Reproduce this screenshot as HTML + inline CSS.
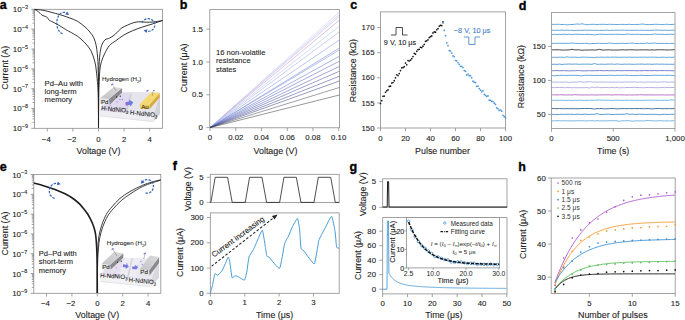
<!DOCTYPE html>
<html><head><meta charset="utf-8"><style>
html,body{margin:0;padding:0;background:#fff;overflow:hidden;}
svg{display:block;font-family:"Liberation Sans", sans-serif;}
</style></head><body>
<svg width="685" height="320" viewBox="0 0 685 320">
<rect width="685" height="320" fill="#fff"/>
<text x="-0.20" y="9.2" font-size="12.5" font-weight="bold" fill="#000" stroke="#000" stroke-width="0.35">a</text>
<rect x="34.50" y="9.30" width="128.00" height="119.00" fill="none" stroke="#8c8c8c" stroke-width="0.8"/>
<line x1="31.30" y1="9.30" x2="34.50" y2="9.30" stroke="#8c8c8c" stroke-width="0.8" />
<text x="27.90" y="12.30" font-size="8.0" text-anchor="end" fill="#222222" stroke="#222222" stroke-width="0.1">10<tspan font-size="5.4" dy="-3.2">−3</tspan></text>
<line x1="31.30" y1="29.13" x2="34.50" y2="29.13" stroke="#8c8c8c" stroke-width="0.8" />
<text x="27.90" y="32.13" font-size="8.0" text-anchor="end" fill="#222222" stroke="#222222" stroke-width="0.1">10<tspan font-size="5.4" dy="-3.2">−4</tspan></text>
<line x1="31.30" y1="48.97" x2="34.50" y2="48.97" stroke="#8c8c8c" stroke-width="0.8" />
<text x="27.90" y="51.97" font-size="8.0" text-anchor="end" fill="#222222" stroke="#222222" stroke-width="0.1">10<tspan font-size="5.4" dy="-3.2">−5</tspan></text>
<line x1="31.30" y1="68.80" x2="34.50" y2="68.80" stroke="#8c8c8c" stroke-width="0.8" />
<text x="27.90" y="71.80" font-size="8.0" text-anchor="end" fill="#222222" stroke="#222222" stroke-width="0.1">10<tspan font-size="5.4" dy="-3.2">−6</tspan></text>
<line x1="31.30" y1="88.63" x2="34.50" y2="88.63" stroke="#8c8c8c" stroke-width="0.8" />
<text x="27.90" y="91.63" font-size="8.0" text-anchor="end" fill="#222222" stroke="#222222" stroke-width="0.1">10<tspan font-size="5.4" dy="-3.2">−7</tspan></text>
<line x1="31.30" y1="108.47" x2="34.50" y2="108.47" stroke="#8c8c8c" stroke-width="0.8" />
<text x="27.90" y="111.47" font-size="8.0" text-anchor="end" fill="#222222" stroke="#222222" stroke-width="0.1">10<tspan font-size="5.4" dy="-3.2">−8</tspan></text>
<line x1="31.30" y1="128.30" x2="34.50" y2="128.30" stroke="#8c8c8c" stroke-width="0.8" />
<text x="27.90" y="131.30" font-size="8.0" text-anchor="end" fill="#222222" stroke="#222222" stroke-width="0.1">10<tspan font-size="5.4" dy="-3.2">−9</tspan></text>
<line x1="32.50" y1="23.16" x2="34.50" y2="23.16" stroke="#7a7a7a" stroke-width="0.7" />
<line x1="32.50" y1="19.67" x2="34.50" y2="19.67" stroke="#7a7a7a" stroke-width="0.7" />
<line x1="32.50" y1="17.19" x2="34.50" y2="17.19" stroke="#7a7a7a" stroke-width="0.7" />
<line x1="32.50" y1="15.27" x2="34.50" y2="15.27" stroke="#7a7a7a" stroke-width="0.7" />
<line x1="32.50" y1="13.70" x2="34.50" y2="13.70" stroke="#7a7a7a" stroke-width="0.7" />
<line x1="32.50" y1="12.37" x2="34.50" y2="12.37" stroke="#7a7a7a" stroke-width="0.7" />
<line x1="32.50" y1="11.22" x2="34.50" y2="11.22" stroke="#7a7a7a" stroke-width="0.7" />
<line x1="32.50" y1="10.21" x2="34.50" y2="10.21" stroke="#7a7a7a" stroke-width="0.7" />
<line x1="32.50" y1="43.00" x2="34.50" y2="43.00" stroke="#7a7a7a" stroke-width="0.7" />
<line x1="32.50" y1="39.50" x2="34.50" y2="39.50" stroke="#7a7a7a" stroke-width="0.7" />
<line x1="32.50" y1="37.03" x2="34.50" y2="37.03" stroke="#7a7a7a" stroke-width="0.7" />
<line x1="32.50" y1="35.10" x2="34.50" y2="35.10" stroke="#7a7a7a" stroke-width="0.7" />
<line x1="32.50" y1="33.53" x2="34.50" y2="33.53" stroke="#7a7a7a" stroke-width="0.7" />
<line x1="32.50" y1="32.21" x2="34.50" y2="32.21" stroke="#7a7a7a" stroke-width="0.7" />
<line x1="32.50" y1="31.06" x2="34.50" y2="31.06" stroke="#7a7a7a" stroke-width="0.7" />
<line x1="32.50" y1="30.04" x2="34.50" y2="30.04" stroke="#7a7a7a" stroke-width="0.7" />
<line x1="32.50" y1="62.83" x2="34.50" y2="62.83" stroke="#7a7a7a" stroke-width="0.7" />
<line x1="32.50" y1="59.34" x2="34.50" y2="59.34" stroke="#7a7a7a" stroke-width="0.7" />
<line x1="32.50" y1="56.86" x2="34.50" y2="56.86" stroke="#7a7a7a" stroke-width="0.7" />
<line x1="32.50" y1="54.94" x2="34.50" y2="54.94" stroke="#7a7a7a" stroke-width="0.7" />
<line x1="32.50" y1="53.37" x2="34.50" y2="53.37" stroke="#7a7a7a" stroke-width="0.7" />
<line x1="32.50" y1="52.04" x2="34.50" y2="52.04" stroke="#7a7a7a" stroke-width="0.7" />
<line x1="32.50" y1="50.89" x2="34.50" y2="50.89" stroke="#7a7a7a" stroke-width="0.7" />
<line x1="32.50" y1="49.87" x2="34.50" y2="49.87" stroke="#7a7a7a" stroke-width="0.7" />
<line x1="32.50" y1="82.66" x2="34.50" y2="82.66" stroke="#7a7a7a" stroke-width="0.7" />
<line x1="32.50" y1="79.17" x2="34.50" y2="79.17" stroke="#7a7a7a" stroke-width="0.7" />
<line x1="32.50" y1="76.69" x2="34.50" y2="76.69" stroke="#7a7a7a" stroke-width="0.7" />
<line x1="32.50" y1="74.77" x2="34.50" y2="74.77" stroke="#7a7a7a" stroke-width="0.7" />
<line x1="32.50" y1="73.20" x2="34.50" y2="73.20" stroke="#7a7a7a" stroke-width="0.7" />
<line x1="32.50" y1="71.87" x2="34.50" y2="71.87" stroke="#7a7a7a" stroke-width="0.7" />
<line x1="32.50" y1="70.72" x2="34.50" y2="70.72" stroke="#7a7a7a" stroke-width="0.7" />
<line x1="32.50" y1="69.71" x2="34.50" y2="69.71" stroke="#7a7a7a" stroke-width="0.7" />
<line x1="32.50" y1="102.50" x2="34.50" y2="102.50" stroke="#7a7a7a" stroke-width="0.7" />
<line x1="32.50" y1="99.00" x2="34.50" y2="99.00" stroke="#7a7a7a" stroke-width="0.7" />
<line x1="32.50" y1="96.53" x2="34.50" y2="96.53" stroke="#7a7a7a" stroke-width="0.7" />
<line x1="32.50" y1="94.60" x2="34.50" y2="94.60" stroke="#7a7a7a" stroke-width="0.7" />
<line x1="32.50" y1="93.03" x2="34.50" y2="93.03" stroke="#7a7a7a" stroke-width="0.7" />
<line x1="32.50" y1="91.71" x2="34.50" y2="91.71" stroke="#7a7a7a" stroke-width="0.7" />
<line x1="32.50" y1="90.56" x2="34.50" y2="90.56" stroke="#7a7a7a" stroke-width="0.7" />
<line x1="32.50" y1="89.54" x2="34.50" y2="89.54" stroke="#7a7a7a" stroke-width="0.7" />
<line x1="32.50" y1="122.33" x2="34.50" y2="122.33" stroke="#7a7a7a" stroke-width="0.7" />
<line x1="32.50" y1="118.84" x2="34.50" y2="118.84" stroke="#7a7a7a" stroke-width="0.7" />
<line x1="32.50" y1="116.36" x2="34.50" y2="116.36" stroke="#7a7a7a" stroke-width="0.7" />
<line x1="32.50" y1="114.44" x2="34.50" y2="114.44" stroke="#7a7a7a" stroke-width="0.7" />
<line x1="32.50" y1="112.87" x2="34.50" y2="112.87" stroke="#7a7a7a" stroke-width="0.7" />
<line x1="32.50" y1="111.54" x2="34.50" y2="111.54" stroke="#7a7a7a" stroke-width="0.7" />
<line x1="32.50" y1="110.39" x2="34.50" y2="110.39" stroke="#7a7a7a" stroke-width="0.7" />
<line x1="32.50" y1="109.37" x2="34.50" y2="109.37" stroke="#7a7a7a" stroke-width="0.7" />
<line x1="47.30" y1="128.30" x2="47.30" y2="131.50" stroke="#8c8c8c" stroke-width="0.8" />
<text x="46.30" y="141.60" font-size="7.8" text-anchor="middle" fill="#222222" stroke="#222222" stroke-width="0.1" font-weight="normal" >−4</text>
<line x1="72.90" y1="128.30" x2="72.90" y2="131.50" stroke="#8c8c8c" stroke-width="0.8" />
<text x="71.90" y="141.60" font-size="7.8" text-anchor="middle" fill="#222222" stroke="#222222" stroke-width="0.1" font-weight="normal" >−2</text>
<line x1="98.50" y1="128.30" x2="98.50" y2="131.50" stroke="#8c8c8c" stroke-width="0.8" />
<text x="98.50" y="141.60" font-size="7.8" text-anchor="middle" fill="#222222" stroke="#222222" stroke-width="0.1" font-weight="normal" >0</text>
<line x1="124.10" y1="128.30" x2="124.10" y2="131.50" stroke="#8c8c8c" stroke-width="0.8" />
<text x="124.10" y="141.60" font-size="7.8" text-anchor="middle" fill="#222222" stroke="#222222" stroke-width="0.1" font-weight="normal" >2</text>
<line x1="149.70" y1="128.30" x2="149.70" y2="131.50" stroke="#8c8c8c" stroke-width="0.8" />
<text x="149.70" y="141.60" font-size="7.8" text-anchor="middle" fill="#222222" stroke="#222222" stroke-width="0.1" font-weight="normal" >4</text>
<text x="98.50" y="153.80" font-size="8.9" text-anchor="middle" fill="#222222" stroke="#222222" stroke-width="0.1" font-weight="normal" >Voltage (V)</text>
<text x="0" y="0" font-size="8.9" text-anchor="middle" fill="#222222" stroke="#222222" stroke-width="0.1" transform="translate(8.30,67.80) rotate(-90)">Current (A)</text>
<path d="M34.60,9.40 C36.00,9.54 39.93,9.69 43.00,10.25 C46.07,10.81 49.67,11.86 53.00,12.75 C56.33,13.64 60.17,14.71 63.00,15.60 C65.83,16.49 67.58,17.16 70.00,18.10 C72.42,19.04 75.00,19.78 77.50,21.25 C80.00,22.72 82.93,25.11 85.00,26.90 C87.07,28.69 88.43,30.18 89.90,32.00 C91.37,33.82 92.75,35.53 93.80,37.80 C94.85,40.07 95.62,43.00 96.20,45.60 C96.78,48.20 96.97,50.79 97.25,53.40 C97.53,56.01 97.74,58.38 97.90,61.25 C98.06,64.12 98.12,67.47 98.20,70.60 C98.28,73.72 98.35,75.93 98.40,80.00 C98.45,84.07 98.48,87.00 98.50,95.00 C98.52,103.00 98.50,122.50 98.50,128.00" stroke="#1e1e1e" stroke-width="0.9" fill="none" />
<path d="M34.60,9.40 C35.27,9.82 37.52,11.07 38.60,11.90 C39.68,12.73 40.37,13.78 41.10,14.40 C41.83,15.02 42.27,15.25 43.00,15.60 C43.73,15.95 44.77,16.17 45.50,16.50 C46.23,16.83 46.85,17.05 47.40,17.60 C47.95,18.15 48.07,19.15 48.80,19.80 C49.52,20.45 50.22,20.68 51.75,21.50 C53.28,22.32 55.71,23.43 58.00,24.75 C60.29,26.07 63.50,28.21 65.50,29.40 C67.50,30.59 68.00,30.76 70.00,31.90 C72.00,33.04 75.50,34.90 77.50,36.25 C79.50,37.60 80.58,38.71 82.00,40.00 C83.42,41.29 84.55,42.28 86.00,44.00 C87.45,45.72 89.40,47.95 90.70,50.30 C92.00,52.65 92.97,55.50 93.80,58.10 C94.63,60.70 95.23,63.29 95.70,65.90 C96.17,68.51 96.34,71.40 96.60,73.75 C96.86,76.10 96.98,76.46 97.25,80.00 C97.52,83.54 97.99,87.00 98.20,95.00 C98.41,103.00 98.45,122.50 98.50,128.00" stroke="#1e1e1e" stroke-width="0.9" fill="none" />
<path d="M98.50,128.00 C98.50,122.50 98.50,103.00 98.50,95.00 C98.50,87.00 98.45,84.07 98.50,80.00 C98.55,75.93 98.67,73.72 98.80,70.60 C98.93,67.47 99.10,64.12 99.30,61.25 C99.50,58.38 99.62,56.01 100.00,53.40 C100.38,50.79 100.93,47.67 101.60,45.60 C102.27,43.53 103.27,42.07 104.00,41.00 C104.73,39.93 105.25,39.62 106.00,39.20 C106.75,38.78 107.67,38.82 108.50,38.50 C109.33,38.18 109.83,38.05 111.00,37.30 C112.17,36.55 113.79,35.51 115.50,34.00 C117.21,32.49 119.25,29.73 121.25,28.25 C123.25,26.77 125.42,26.04 127.50,25.10 C129.58,24.16 131.67,23.16 133.75,22.60 C135.83,22.04 137.92,21.81 140.00,21.75 C142.08,21.69 144.17,22.21 146.25,22.25 C148.33,22.29 150.62,22.14 152.50,22.00 C154.38,21.86 155.85,21.65 157.50,21.40 C159.15,21.15 161.58,20.65 162.40,20.50" stroke="#1e1e1e" stroke-width="0.9" fill="none" />
<path d="M98.50,128.00 C98.55,122.50 98.67,103.00 98.80,95.00 C98.93,87.00 99.10,84.33 99.30,80.00 C99.50,75.67 99.62,72.12 100.00,69.00 C100.38,65.88 100.81,63.85 101.60,61.25 C102.39,58.65 103.45,56.01 104.75,53.40 C106.05,50.79 107.58,47.70 109.40,45.60 C111.23,43.50 113.31,42.55 115.70,40.80 C118.09,39.05 120.95,36.77 123.75,35.10 C126.55,33.43 129.38,32.10 132.50,30.75 C135.62,29.40 139.17,28.14 142.50,27.00 C145.83,25.86 149.18,24.98 152.50,23.90 C155.82,22.82 160.75,21.07 162.40,20.50" stroke="#1e1e1e" stroke-width="0.9" fill="none" />
<path d="M62.58,33.74 L61.80,33.45 L61.04,33.03 L60.32,32.47 L59.65,31.79 L59.03,31.00 L58.47,30.10 L57.98,29.11 L57.57,28.04 L57.25,26.90 L57.01,25.71 L56.86,24.49 L56.80,23.25 L56.84,22.01 L56.96,20.78 L57.18,19.58 L57.49,18.43 L57.88,17.34 L58.34,16.33 L58.88,15.41 L59.49,14.59 L60.15,13.88 L60.86,13.30 L61.61,12.84 L62.39,12.52 L63.19,12.34 L64.00,12.30 L64.80,12.41 L65.59,12.66 L66.35,13.04 L67.09,13.56" stroke="#3566b8" stroke-width="1.25" fill="none" stroke-dasharray="2.4 1.3" stroke-linecap="butt"/>
<path d="M69.04,14.95 L65.17,14.53 L67.37,11.44 Z" fill="#3566b8"/>
<path d="M142.00,22.85 L142.43,21.95 L143.00,21.12 L143.70,20.39 L144.51,19.78 L145.41,19.29 L146.38,18.94 L147.40,18.75 L148.43,18.70 L149.46,18.82 L150.46,19.08 L151.40,19.49 L152.26,20.04 L153.03,20.70 L153.67,21.48 L154.18,22.34 L154.54,23.26 L154.75,24.23 L154.80,25.22 L154.68,26.20 L154.40,27.15 L153.97,28.05 L153.40,28.88 L152.70,29.61 L151.89,30.22 L150.99,30.71 L150.02,31.06 L149.00,31.25 L147.97,31.30 L146.94,31.18 L145.94,30.92" stroke="#3566b8" stroke-width="1.25" fill="none" stroke-dasharray="2.4 1.3" stroke-linecap="butt"/>
<path d="M143.62,30.31 L147.40,29.34 L146.42,33.01 Z" fill="#3566b8"/>
<text x="179.80" y="9.3" font-size="12.5" font-weight="bold" fill="#000" stroke="#000" stroke-width="0.35">b</text>
<rect x="209.80" y="9.60" width="129.70" height="118.20" fill="none" stroke="#8c8c8c" stroke-width="0.8"/>
<line x1="206.40" y1="127.60" x2="209.80" y2="127.60" stroke="#8c8c8c" stroke-width="0.8" />
<text x="202.90" y="130.20" font-size="7.8" text-anchor="end" fill="#222222" stroke="#222222" stroke-width="0.1" font-weight="normal" >0</text>
<line x1="206.40" y1="94.80" x2="209.80" y2="94.80" stroke="#8c8c8c" stroke-width="0.8" />
<text x="202.90" y="97.40" font-size="7.8" text-anchor="end" fill="#222222" stroke="#222222" stroke-width="0.1" font-weight="normal" >0.5</text>
<line x1="206.40" y1="62.00" x2="209.80" y2="62.00" stroke="#8c8c8c" stroke-width="0.8" />
<text x="202.90" y="64.60" font-size="7.8" text-anchor="end" fill="#222222" stroke="#222222" stroke-width="0.1" font-weight="normal" >1.0</text>
<line x1="206.40" y1="29.20" x2="209.80" y2="29.20" stroke="#8c8c8c" stroke-width="0.8" />
<text x="202.90" y="31.80" font-size="7.8" text-anchor="end" fill="#222222" stroke="#222222" stroke-width="0.1" font-weight="normal" >1.5</text>
<line x1="210.00" y1="127.80" x2="210.00" y2="131.00" stroke="#8c8c8c" stroke-width="0.8" />
<text x="210.00" y="140.00" font-size="7.8" text-anchor="middle" fill="#222222" stroke="#222222" stroke-width="0.1" font-weight="normal" >0</text>
<line x1="235.74" y1="127.80" x2="235.74" y2="131.00" stroke="#8c8c8c" stroke-width="0.8" />
<text x="235.74" y="140.00" font-size="7.8" text-anchor="middle" fill="#222222" stroke="#222222" stroke-width="0.1" font-weight="normal" >0.02</text>
<line x1="261.48" y1="127.80" x2="261.48" y2="131.00" stroke="#8c8c8c" stroke-width="0.8" />
<text x="261.48" y="140.00" font-size="7.8" text-anchor="middle" fill="#222222" stroke="#222222" stroke-width="0.1" font-weight="normal" >0.04</text>
<line x1="287.22" y1="127.80" x2="287.22" y2="131.00" stroke="#8c8c8c" stroke-width="0.8" />
<text x="287.22" y="140.00" font-size="7.8" text-anchor="middle" fill="#222222" stroke="#222222" stroke-width="0.1" font-weight="normal" >0.06</text>
<line x1="312.96" y1="127.80" x2="312.96" y2="131.00" stroke="#8c8c8c" stroke-width="0.8" />
<text x="312.96" y="140.00" font-size="7.8" text-anchor="middle" fill="#222222" stroke="#222222" stroke-width="0.1" font-weight="normal" >0.08</text>
<line x1="338.70" y1="127.80" x2="338.70" y2="131.00" stroke="#8c8c8c" stroke-width="0.8" />
<text x="338.70" y="140.00" font-size="7.8" text-anchor="middle" fill="#222222" stroke="#222222" stroke-width="0.1" font-weight="normal" >0.10</text>
<text x="275.50" y="154.00" font-size="8.9" text-anchor="middle" fill="#222222" stroke="#222222" stroke-width="0.1" font-weight="normal" >Voltage (V)</text>
<text x="0" y="0" font-size="8.9" text-anchor="middle" fill="#222222" stroke="#222222" stroke-width="0.1" transform="translate(186.60,68.00) rotate(-90)">Current (μA)</text>
<line x1="210.00" y1="127.60" x2="339.30" y2="11.90" stroke="#c4c4ee" stroke-width="0.52" />
<line x1="210.00" y1="127.60" x2="339.30" y2="14.40" stroke="#b8bcec" stroke-width="0.52" />
<line x1="210.00" y1="127.60" x2="339.30" y2="16.25" stroke="#b0b0e6" stroke-width="0.52" />
<line x1="210.00" y1="127.60" x2="339.30" y2="20.25" stroke="#c888cc" stroke-width="0.52" />
<line x1="210.00" y1="127.60" x2="339.30" y2="26.25" stroke="#a0c4ee" stroke-width="0.52" />
<line x1="210.00" y1="127.60" x2="339.30" y2="31.90" stroke="#9ca4e4" stroke-width="0.52" />
<line x1="210.00" y1="127.60" x2="339.30" y2="40.00" stroke="#8090dc" stroke-width="0.52" />
<line x1="210.00" y1="127.60" x2="339.30" y2="48.10" stroke="#6880d4" stroke-width="0.52" />
<line x1="210.00" y1="127.60" x2="339.30" y2="50.00" stroke="#7088d4" stroke-width="0.52" />
<line x1="210.00" y1="127.60" x2="339.30" y2="56.25" stroke="#5c6cc4" stroke-width="0.52" />
<line x1="210.00" y1="127.60" x2="339.30" y2="61.25" stroke="#5060b8" stroke-width="0.52" />
<line x1="210.00" y1="127.60" x2="339.30" y2="66.50" stroke="#4a58ac" stroke-width="0.52" />
<line x1="210.00" y1="127.60" x2="339.30" y2="71.25" stroke="#404c9c" stroke-width="0.52" />
<line x1="210.00" y1="127.60" x2="339.30" y2="76.25" stroke="#3a4290" stroke-width="0.52" />
<line x1="210.00" y1="127.60" x2="339.30" y2="81.00" stroke="#383c7c" stroke-width="0.52" />
<line x1="210.00" y1="127.60" x2="339.30" y2="87.50" stroke="#484860" stroke-width="0.52" />
<line x1="210.00" y1="127.60" x2="339.30" y2="95.00" stroke="#3a3a3a" stroke-width="0.52" />
<text x="216.00" y="54.80" font-size="7.6" text-anchor="start" fill="#222" stroke="#222" stroke-width="0.1" font-weight="normal" >16 non-volatile</text>
<text x="216.00" y="63.20" font-size="7.6" text-anchor="start" fill="#222" stroke="#222" stroke-width="0.1" font-weight="normal" >resistance</text>
<text x="216.00" y="71.60" font-size="7.6" text-anchor="start" fill="#222" stroke="#222" stroke-width="0.1" font-weight="normal" >states</text>
<text x="350.30" y="9.3" font-size="12.5" font-weight="bold" fill="#000" stroke="#000" stroke-width="0.35">c</text>
<rect x="380.50" y="11.90" width="125.00" height="116.10" fill="none" stroke="#8c8c8c" stroke-width="0.8"/>
<line x1="377.10" y1="128.00" x2="380.50" y2="128.00" stroke="#8c8c8c" stroke-width="0.8" />
<text x="374.50" y="130.60" font-size="7.8" text-anchor="end" fill="#222222" stroke="#222222" stroke-width="0.1" font-weight="normal" >150</text>
<line x1="377.10" y1="102.90" x2="380.50" y2="102.90" stroke="#8c8c8c" stroke-width="0.8" />
<text x="374.50" y="105.50" font-size="7.8" text-anchor="end" fill="#222222" stroke="#222222" stroke-width="0.1" font-weight="normal" >155</text>
<line x1="377.10" y1="77.80" x2="380.50" y2="77.80" stroke="#8c8c8c" stroke-width="0.8" />
<text x="374.50" y="80.40" font-size="7.8" text-anchor="end" fill="#222222" stroke="#222222" stroke-width="0.1" font-weight="normal" >160</text>
<line x1="377.10" y1="52.70" x2="380.50" y2="52.70" stroke="#8c8c8c" stroke-width="0.8" />
<text x="374.50" y="55.30" font-size="7.8" text-anchor="end" fill="#222222" stroke="#222222" stroke-width="0.1" font-weight="normal" >165</text>
<line x1="377.10" y1="27.60" x2="380.50" y2="27.60" stroke="#8c8c8c" stroke-width="0.8" />
<text x="374.50" y="30.20" font-size="7.8" text-anchor="end" fill="#222222" stroke="#222222" stroke-width="0.1" font-weight="normal" >170</text>
<line x1="380.50" y1="128.00" x2="380.50" y2="131.20" stroke="#8c8c8c" stroke-width="0.8" />
<text x="380.50" y="140.80" font-size="7.8" text-anchor="middle" fill="#222222" stroke="#222222" stroke-width="0.1" font-weight="normal" >0</text>
<line x1="405.50" y1="128.00" x2="405.50" y2="131.20" stroke="#8c8c8c" stroke-width="0.8" />
<text x="405.50" y="140.80" font-size="7.8" text-anchor="middle" fill="#222222" stroke="#222222" stroke-width="0.1" font-weight="normal" >20</text>
<line x1="430.50" y1="128.00" x2="430.50" y2="131.20" stroke="#8c8c8c" stroke-width="0.8" />
<text x="430.50" y="140.80" font-size="7.8" text-anchor="middle" fill="#222222" stroke="#222222" stroke-width="0.1" font-weight="normal" >40</text>
<line x1="455.50" y1="128.00" x2="455.50" y2="131.20" stroke="#8c8c8c" stroke-width="0.8" />
<text x="455.50" y="140.80" font-size="7.8" text-anchor="middle" fill="#222222" stroke="#222222" stroke-width="0.1" font-weight="normal" >60</text>
<line x1="480.50" y1="128.00" x2="480.50" y2="131.20" stroke="#8c8c8c" stroke-width="0.8" />
<text x="480.50" y="140.80" font-size="7.8" text-anchor="middle" fill="#222222" stroke="#222222" stroke-width="0.1" font-weight="normal" >80</text>
<line x1="505.50" y1="128.00" x2="505.50" y2="131.20" stroke="#8c8c8c" stroke-width="0.8" />
<text x="505.50" y="140.80" font-size="7.8" text-anchor="middle" fill="#222222" stroke="#222222" stroke-width="0.1" font-weight="normal" >100</text>
<text x="442.50" y="154.00" font-size="8.9" text-anchor="middle" fill="#222222" stroke="#222222" stroke-width="0.1" font-weight="normal" >Pulse number</text>
<text x="0" y="0" font-size="8.9" text-anchor="middle" fill="#222222" stroke="#222222" stroke-width="0.1" transform="translate(356.40,70.60) rotate(-90)">Resistance (kΩ)</text>
<circle cx="380.50" cy="103.52" r="0.85" fill="#111"/>
<circle cx="381.75" cy="100.66" r="0.85" fill="#111"/>
<circle cx="383.00" cy="96.33" r="0.85" fill="#111"/>
<circle cx="384.25" cy="96.05" r="0.85" fill="#111"/>
<circle cx="385.50" cy="92.26" r="0.85" fill="#111"/>
<circle cx="386.75" cy="90.80" r="0.85" fill="#111"/>
<circle cx="388.00" cy="89.91" r="0.85" fill="#111"/>
<circle cx="389.25" cy="86.42" r="0.85" fill="#111"/>
<circle cx="390.50" cy="86.22" r="0.85" fill="#111"/>
<circle cx="391.75" cy="83.02" r="0.85" fill="#111"/>
<circle cx="393.00" cy="82.52" r="0.85" fill="#111"/>
<circle cx="394.25" cy="80.72" r="0.85" fill="#111"/>
<circle cx="395.50" cy="77.84" r="0.85" fill="#111"/>
<circle cx="396.75" cy="74.75" r="0.85" fill="#111"/>
<circle cx="398.00" cy="75.57" r="0.85" fill="#111"/>
<circle cx="399.25" cy="73.60" r="0.85" fill="#111"/>
<circle cx="400.50" cy="70.57" r="0.85" fill="#111"/>
<circle cx="401.75" cy="67.87" r="0.85" fill="#111"/>
<circle cx="403.00" cy="67.60" r="0.85" fill="#111"/>
<circle cx="404.25" cy="66.69" r="0.85" fill="#111"/>
<circle cx="405.50" cy="63.12" r="0.85" fill="#111"/>
<circle cx="406.75" cy="64.87" r="0.85" fill="#111"/>
<circle cx="408.00" cy="60.51" r="0.85" fill="#111"/>
<circle cx="409.25" cy="61.02" r="0.85" fill="#111"/>
<circle cx="410.50" cy="60.06" r="0.85" fill="#111"/>
<circle cx="411.75" cy="58.69" r="0.85" fill="#111"/>
<circle cx="413.00" cy="56.57" r="0.85" fill="#111"/>
<circle cx="414.25" cy="53.34" r="0.85" fill="#111"/>
<circle cx="415.50" cy="54.14" r="0.85" fill="#111"/>
<circle cx="416.75" cy="51.31" r="0.85" fill="#111"/>
<circle cx="418.00" cy="49.70" r="0.85" fill="#111"/>
<circle cx="419.25" cy="49.24" r="0.85" fill="#111"/>
<circle cx="420.50" cy="47.23" r="0.85" fill="#111"/>
<circle cx="421.75" cy="47.55" r="0.85" fill="#111"/>
<circle cx="423.00" cy="46.19" r="0.85" fill="#111"/>
<circle cx="424.25" cy="44.31" r="0.85" fill="#111"/>
<circle cx="425.50" cy="41.28" r="0.85" fill="#111"/>
<circle cx="426.75" cy="40.82" r="0.85" fill="#111"/>
<circle cx="428.00" cy="39.87" r="0.85" fill="#111"/>
<circle cx="429.25" cy="37.58" r="0.85" fill="#111"/>
<circle cx="430.50" cy="36.72" r="0.85" fill="#111"/>
<circle cx="431.75" cy="35.93" r="0.85" fill="#111"/>
<circle cx="433.00" cy="32.88" r="0.85" fill="#111"/>
<circle cx="434.25" cy="31.90" r="0.85" fill="#111"/>
<circle cx="435.50" cy="32.19" r="0.85" fill="#111"/>
<circle cx="436.75" cy="29.73" r="0.85" fill="#111"/>
<circle cx="438.00" cy="28.61" r="0.85" fill="#111"/>
<circle cx="439.25" cy="26.10" r="0.85" fill="#111"/>
<circle cx="440.50" cy="25.33" r="0.85" fill="#111"/>
<circle cx="441.75" cy="25.60" r="0.85" fill="#111"/>
<circle cx="443.00" cy="21.90" r="0.85" fill="#111"/>
<circle cx="443.00" cy="22.92" r="0.85" fill="#4a96d8"/>
<circle cx="444.25" cy="30.38" r="0.85" fill="#4a96d8"/>
<circle cx="445.50" cy="35.70" r="0.85" fill="#4a96d8"/>
<circle cx="446.75" cy="42.88" r="0.85" fill="#4a96d8"/>
<circle cx="448.00" cy="45.72" r="0.85" fill="#4a96d8"/>
<circle cx="449.25" cy="50.58" r="0.85" fill="#4a96d8"/>
<circle cx="450.50" cy="51.12" r="0.85" fill="#4a96d8"/>
<circle cx="451.75" cy="53.15" r="0.85" fill="#4a96d8"/>
<circle cx="453.00" cy="55.92" r="0.85" fill="#4a96d8"/>
<circle cx="454.25" cy="56.76" r="0.85" fill="#4a96d8"/>
<circle cx="455.50" cy="60.49" r="0.85" fill="#4a96d8"/>
<circle cx="456.75" cy="60.81" r="0.85" fill="#4a96d8"/>
<circle cx="458.00" cy="62.75" r="0.85" fill="#4a96d8"/>
<circle cx="459.25" cy="64.34" r="0.85" fill="#4a96d8"/>
<circle cx="460.50" cy="66.27" r="0.85" fill="#4a96d8"/>
<circle cx="461.75" cy="66.40" r="0.85" fill="#4a96d8"/>
<circle cx="463.00" cy="67.48" r="0.85" fill="#4a96d8"/>
<circle cx="464.25" cy="70.58" r="0.85" fill="#4a96d8"/>
<circle cx="465.50" cy="71.34" r="0.85" fill="#4a96d8"/>
<circle cx="466.75" cy="74.88" r="0.85" fill="#4a96d8"/>
<circle cx="468.00" cy="74.05" r="0.85" fill="#4a96d8"/>
<circle cx="469.25" cy="75.65" r="0.85" fill="#4a96d8"/>
<circle cx="470.50" cy="75.85" r="0.85" fill="#4a96d8"/>
<circle cx="471.75" cy="77.86" r="0.85" fill="#4a96d8"/>
<circle cx="473.00" cy="81.16" r="0.85" fill="#4a96d8"/>
<circle cx="474.25" cy="82.21" r="0.85" fill="#4a96d8"/>
<circle cx="475.50" cy="82.62" r="0.85" fill="#4a96d8"/>
<circle cx="476.75" cy="86.30" r="0.85" fill="#4a96d8"/>
<circle cx="478.00" cy="86.17" r="0.85" fill="#4a96d8"/>
<circle cx="479.25" cy="88.60" r="0.85" fill="#4a96d8"/>
<circle cx="480.50" cy="90.19" r="0.85" fill="#4a96d8"/>
<circle cx="481.75" cy="91.80" r="0.85" fill="#4a96d8"/>
<circle cx="483.00" cy="90.71" r="0.85" fill="#4a96d8"/>
<circle cx="484.25" cy="94.36" r="0.85" fill="#4a96d8"/>
<circle cx="485.50" cy="95.35" r="0.85" fill="#4a96d8"/>
<circle cx="486.75" cy="96.25" r="0.85" fill="#4a96d8"/>
<circle cx="488.00" cy="95.97" r="0.85" fill="#4a96d8"/>
<circle cx="489.25" cy="100.16" r="0.85" fill="#4a96d8"/>
<circle cx="490.50" cy="100.27" r="0.85" fill="#4a96d8"/>
<circle cx="491.75" cy="101.32" r="0.85" fill="#4a96d8"/>
<circle cx="493.00" cy="101.55" r="0.85" fill="#4a96d8"/>
<circle cx="494.25" cy="103.18" r="0.85" fill="#4a96d8"/>
<circle cx="495.50" cy="104.43" r="0.85" fill="#4a96d8"/>
<circle cx="496.75" cy="107.90" r="0.85" fill="#4a96d8"/>
<circle cx="498.00" cy="108.82" r="0.85" fill="#4a96d8"/>
<circle cx="499.25" cy="110.42" r="0.85" fill="#4a96d8"/>
<circle cx="500.50" cy="109.98" r="0.85" fill="#4a96d8"/>
<circle cx="501.75" cy="111.13" r="0.85" fill="#4a96d8"/>
<circle cx="503.00" cy="115.37" r="0.85" fill="#4a96d8"/>
<circle cx="504.25" cy="116.69" r="0.85" fill="#4a96d8"/>
<circle cx="505.50" cy="117.90" r="0.85" fill="#4a96d8"/>
<path d="M391,35 L396,35 L396,27.5 L402.5,27.5 L402.5,35 L407.5,35" stroke="#222" stroke-width="0.8" fill="none" />
<text x="383.80" y="45.30" font-size="7.3" text-anchor="start" fill="#222" stroke="#222" stroke-width="0.1" font-weight="normal" >9 V, 10 μs</text>
<path d="M463.8,37 L468.8,37 L468.8,44.5 L475,44.5 L475,37 L480,37" stroke="#3d7cc9" stroke-width="0.8" fill="none" />
<text x="453.80" y="32.60" font-size="7.3" text-anchor="start" fill="#3d7cc9" stroke="#3d7cc9" stroke-width="0.1" font-weight="normal" >−8 V, 10 μs</text>
<text x="518.80" y="9.5" font-size="12.5" font-weight="bold" fill="#000" stroke="#000" stroke-width="0.35">d</text>
<rect x="551.50" y="12.60" width="123.50" height="115.90" fill="none" stroke="#8c8c8c" stroke-width="0.8"/>
<line x1="548.10" y1="114.40" x2="551.50" y2="114.40" stroke="#8c8c8c" stroke-width="0.8" />
<text x="545.50" y="117.00" font-size="7.8" text-anchor="end" fill="#222222" stroke="#222222" stroke-width="0.1" font-weight="normal" >50</text>
<line x1="548.10" y1="80.40" x2="551.50" y2="80.40" stroke="#8c8c8c" stroke-width="0.8" />
<text x="545.50" y="83.00" font-size="7.8" text-anchor="end" fill="#222222" stroke="#222222" stroke-width="0.1" font-weight="normal" >100</text>
<line x1="548.10" y1="46.40" x2="551.50" y2="46.40" stroke="#8c8c8c" stroke-width="0.8" />
<text x="545.50" y="49.00" font-size="7.8" text-anchor="end" fill="#222222" stroke="#222222" stroke-width="0.1" font-weight="normal" >150</text>
<line x1="551.50" y1="128.50" x2="551.50" y2="131.70" stroke="#8c8c8c" stroke-width="0.8" />
<text x="551.50" y="141.30" font-size="7.8" text-anchor="middle" fill="#222222" stroke="#222222" stroke-width="0.1" font-weight="normal" >0</text>
<line x1="613.20" y1="128.50" x2="613.20" y2="131.70" stroke="#8c8c8c" stroke-width="0.8" />
<text x="613.20" y="141.30" font-size="7.8" text-anchor="middle" fill="#222222" stroke="#222222" stroke-width="0.1" font-weight="normal" >500</text>
<line x1="675.00" y1="128.50" x2="675.00" y2="131.70" stroke="#8c8c8c" stroke-width="0.8" />
<text x="675.00" y="141.30" font-size="7.8" text-anchor="middle" fill="#222222" stroke="#222222" stroke-width="0.1" font-weight="normal" >1,000</text>
<text x="613.20" y="153.80" font-size="8.9" text-anchor="middle" fill="#222222" stroke="#222222" stroke-width="0.1" font-weight="normal" >Time (s)</text>
<text x="0" y="0" font-size="8.9" text-anchor="middle" fill="#222222" stroke="#222222" stroke-width="0.1" transform="translate(524.30,76.60) rotate(-90)">Resistance (kΩ)</text>
<path d="M552.00,24.32 L554.50,24.43 L557.00,24.25 L559.50,24.36 L562.00,24.54 L564.50,24.40 L567.00,24.93 L569.50,24.48 L572.00,24.49 L574.50,24.37 L577.00,23.92 L579.50,24.31 L582.00,23.75 L584.50,24.30 L587.00,24.81 L589.50,24.43 L592.00,24.33 L594.50,24.36 L597.00,24.50 L599.50,24.39 L602.00,24.28 L604.50,24.35 L607.00,24.50 L609.50,24.26 L612.00,24.41 L614.50,24.45 L617.00,24.54 L619.50,24.46 L622.00,24.36 L624.50,24.48 L627.00,24.48 L629.50,24.32 L632.00,24.55 L634.50,24.49 L637.00,24.47 L639.50,24.41 L642.00,23.99 L644.50,24.33 L647.00,24.54 L649.50,24.53 L652.00,24.54 L654.50,24.32 L657.00,24.31 L659.50,24.44 L662.00,24.50 L664.50,24.45 L667.00,24.28 L669.50,24.52 L672.00,24.48 L674.50,24.30" stroke="#4092d0" stroke-width="0.8" fill="none" />
<path d="M552.00,30.20 L554.50,30.39 L557.00,30.22 L559.50,30.32 L562.00,30.14 L564.50,30.37 L567.00,30.14 L569.50,30.39 L572.00,30.21 L574.50,30.70 L577.00,30.29 L579.50,30.38 L582.00,30.36 L584.50,30.16 L587.00,30.19 L589.50,30.28 L592.00,30.23 L594.50,30.37 L597.00,30.24 L599.50,30.37 L602.00,30.38 L604.50,30.26 L607.00,30.11 L609.50,30.51 L612.00,30.15 L614.50,30.32 L617.00,30.20 L619.50,30.27 L622.00,30.13 L624.50,30.17 L627.00,30.33 L629.50,30.27 L632.00,30.37 L634.50,30.28 L637.00,30.25 L639.50,30.24 L642.00,30.24 L644.50,30.31 L647.00,30.38 L649.50,30.27 L652.00,30.35 L654.50,30.14 L657.00,30.12 L659.50,30.12 L662.00,30.34 L664.50,30.15 L667.00,30.30 L669.50,30.36 L672.00,30.17 L674.50,30.22" stroke="#4092d0" stroke-width="0.8" fill="none" />
<path d="M552.00,34.55 L554.50,34.30 L557.00,34.40 L559.50,34.31 L562.00,34.53 L564.50,34.18 L567.00,34.44 L569.50,34.27 L572.00,34.49 L574.50,34.28 L577.00,34.26 L579.50,34.33 L582.00,34.38 L584.50,34.50 L587.00,34.29 L589.50,34.42 L592.00,34.50 L594.50,34.90 L597.00,34.44 L599.50,34.28 L602.00,34.27 L604.50,34.39 L607.00,34.42 L609.50,34.33 L612.00,34.41 L614.50,34.28 L617.00,34.27 L619.50,34.34 L622.00,34.48 L624.50,34.40 L627.00,34.05 L629.50,34.25 L632.00,34.42 L634.50,34.39 L637.00,34.28 L639.50,34.38 L642.00,34.50 L644.50,34.40 L647.00,34.54 L649.50,34.50 L652.00,34.44 L654.50,33.91 L657.00,34.27 L659.50,34.33 L662.00,34.28 L664.50,34.51 L667.00,34.33 L669.50,34.34 L672.00,34.30 L674.50,34.33" stroke="#4092d0" stroke-width="0.8" fill="none" />
<path d="M552.00,43.54 L554.50,43.32 L557.00,43.34 L559.50,43.25 L562.00,43.39 L564.50,43.31 L567.00,43.25 L569.50,43.28 L572.00,43.03 L574.50,43.32 L577.00,43.41 L579.50,43.45 L582.00,43.51 L584.50,43.35 L587.00,43.29 L589.50,43.85 L592.00,43.52 L594.50,43.47 L597.00,43.29 L599.50,43.40 L602.00,43.49 L604.50,43.43 L607.00,43.45 L609.50,42.88 L612.00,43.36 L614.50,43.50 L617.00,43.44 L619.50,43.45 L622.00,43.25 L624.50,43.47 L627.00,43.41 L629.50,43.27 L632.00,43.04 L634.50,43.47 L637.00,43.47 L639.50,43.40 L642.00,43.39 L644.50,43.48 L647.00,43.02 L649.50,43.33 L652.00,43.34 L654.50,42.98 L657.00,43.45 L659.50,43.45 L662.00,43.40 L664.50,43.39 L667.00,43.52 L669.50,43.54 L672.00,43.26 L674.50,43.50" stroke="#4092d0" stroke-width="0.8" fill="none" />
<path d="M552.00,49.88 L554.50,49.81 L557.00,49.81 L559.50,49.79 L562.00,50.04 L564.50,50.00 L567.00,50.02 L569.50,49.82 L572.00,49.30 L574.50,49.90 L577.00,49.84 L579.50,49.85 L582.00,50.30 L584.50,50.00 L587.00,50.03 L589.50,50.02 L592.00,49.86 L594.50,50.05 L597.00,49.86 L599.50,49.35 L602.00,50.00 L604.50,50.03 L607.00,49.83 L609.50,49.81 L612.00,50.04 L614.50,49.99 L617.00,50.02 L619.50,49.91 L622.00,49.76 L624.50,49.89 L627.00,49.94 L629.50,49.76 L632.00,49.79 L634.50,49.85 L637.00,49.97 L639.50,49.83 L642.00,49.84 L644.50,49.87 L647.00,49.80 L649.50,50.02 L652.00,49.82 L654.50,50.05 L657.00,49.79 L659.50,49.78 L662.00,49.78 L664.50,49.83 L667.00,50.02 L669.50,49.87 L672.00,49.91 L674.50,49.58" stroke="#1a1a1a" stroke-width="0.8" fill="none" />
<path d="M552.00,57.39 L554.50,57.25 L557.00,57.36 L559.50,57.18 L562.00,57.22 L564.50,57.39 L567.00,56.80 L569.50,57.31 L572.00,57.24 L574.50,57.10 L577.00,57.38 L579.50,57.36 L582.00,57.17 L584.50,57.15 L587.00,57.30 L589.50,57.32 L592.00,57.33 L594.50,57.60 L597.00,57.17 L599.50,57.29 L602.00,57.14 L604.50,57.29 L607.00,57.16 L609.50,57.27 L612.00,57.17 L614.50,57.10 L617.00,57.24 L619.50,57.29 L622.00,57.24 L624.50,57.17 L627.00,57.31 L629.50,57.11 L632.00,57.30 L634.50,57.18 L637.00,57.38 L639.50,57.11 L642.00,57.23 L644.50,57.16 L647.00,57.32 L649.50,57.16 L652.00,57.19 L654.50,57.17 L657.00,57.33 L659.50,57.39 L662.00,57.16 L664.50,57.23 L667.00,57.38 L669.50,57.22 L672.00,57.39 L674.50,56.99" stroke="#4092d0" stroke-width="0.8" fill="none" />
<path d="M552.00,64.32 L554.50,64.27 L557.00,64.33 L559.50,64.11 L562.00,64.47 L564.50,64.16 L567.00,64.15 L569.50,64.05 L572.00,64.16 L574.50,64.09 L577.00,64.11 L579.50,64.30 L582.00,64.15 L584.50,64.16 L587.00,64.11 L589.50,64.21 L592.00,64.29 L594.50,63.54 L597.00,64.33 L599.50,64.27 L602.00,64.15 L604.50,64.34 L607.00,64.13 L609.50,64.14 L612.00,64.05 L614.50,64.32 L617.00,64.01 L619.50,64.19 L622.00,64.34 L624.50,64.13 L627.00,64.20 L629.50,64.10 L632.00,64.27 L634.50,64.28 L637.00,64.15 L639.50,64.16 L642.00,64.07 L644.50,64.28 L647.00,64.13 L649.50,64.15 L652.00,64.32 L654.50,64.13 L657.00,64.08 L659.50,64.26 L662.00,64.12 L664.50,64.24 L667.00,64.27 L669.50,64.25 L672.00,64.30 L674.50,64.22" stroke="#3c88c8" stroke-width="0.8" fill="none" />
<path d="M552.00,70.77 L554.50,70.62 L557.00,70.60 L559.50,70.72 L562.00,70.67 L564.50,70.70 L567.00,70.79 L569.50,70.85 L572.00,70.69 L574.50,70.80 L577.00,70.56 L579.50,70.59 L582.00,70.84 L584.50,70.83 L587.00,70.81 L589.50,70.63 L592.00,70.83 L594.50,70.73 L597.00,70.62 L599.50,70.59 L602.00,70.63 L604.50,70.75 L607.00,70.55 L609.50,70.75 L612.00,70.64 L614.50,70.79 L617.00,70.57 L619.50,70.67 L622.00,70.74 L624.50,70.60 L627.00,70.67 L629.50,70.64 L632.00,70.64 L634.50,70.66 L637.00,70.81 L639.50,70.66 L642.00,70.77 L644.50,70.55 L647.00,70.68 L649.50,70.67 L652.00,70.69 L654.50,70.55 L657.00,70.74 L659.50,70.58 L662.00,70.66 L664.50,70.59 L667.00,70.71 L669.50,70.58 L672.00,70.79 L674.50,70.61" stroke="#5c64bc" stroke-width="0.8" fill="none" />
<path d="M552.00,75.53 L554.50,75.91 L557.00,75.37 L559.50,75.44 L562.00,75.30 L564.50,75.32 L567.00,75.50 L569.50,75.30 L572.00,75.37 L574.50,75.37 L577.00,75.32 L579.50,75.59 L582.00,75.88 L584.50,75.29 L587.00,75.42 L589.50,75.34 L592.00,75.42 L594.50,75.45 L597.00,75.52 L599.50,75.40 L602.00,75.48 L604.50,75.39 L607.00,75.39 L609.50,75.29 L612.00,75.28 L614.50,75.57 L617.00,75.27 L619.50,75.48 L622.00,75.27 L624.50,75.36 L627.00,75.29 L629.50,75.55 L632.00,75.49 L634.50,75.54 L637.00,75.54 L639.50,75.30 L642.00,75.35 L644.50,75.48 L647.00,75.52 L649.50,75.49 L652.00,75.40 L654.50,75.31 L657.00,75.40 L659.50,75.26 L662.00,75.30 L664.50,75.45 L667.00,75.30 L669.50,75.28 L672.00,75.44 L674.50,75.51" stroke="#4092d0" stroke-width="0.8" fill="none" />
<path d="M552.00,82.12 L554.50,81.98 L557.00,82.14 L559.50,82.19 L562.00,82.25 L564.50,82.06 L567.00,82.08 L569.50,82.56 L572.00,82.03 L574.50,82.25 L577.00,82.15 L579.50,81.53 L582.00,82.13 L584.50,82.10 L587.00,81.99 L589.50,81.55 L592.00,82.06 L594.50,82.06 L597.00,82.13 L599.50,82.01 L602.00,82.09 L604.50,82.23 L607.00,81.99 L609.50,82.14 L612.00,82.18 L614.50,82.20 L617.00,82.12 L619.50,82.14 L622.00,82.23 L624.50,82.02 L627.00,81.96 L629.50,82.07 L632.00,81.97 L634.50,81.95 L637.00,82.23 L639.50,82.01 L642.00,82.10 L644.50,82.19 L647.00,82.04 L649.50,81.96 L652.00,82.18 L654.50,81.95 L657.00,82.17 L659.50,82.17 L662.00,82.02 L664.50,81.82 L667.00,82.17 L669.50,82.20 L672.00,82.03 L674.50,82.08" stroke="#9ea6da" stroke-width="0.8" fill="none" />
<path d="M552.00,87.61 L554.50,87.64 L557.00,87.52 L559.50,87.45 L562.00,87.52 L564.50,87.73 L567.00,87.55 L569.50,87.55 L572.00,87.72 L574.50,87.66 L577.00,87.74 L579.50,87.70 L582.00,87.71 L584.50,87.67 L587.00,87.54 L589.50,88.13 L592.00,87.02 L594.50,87.73 L597.00,86.94 L599.50,87.66 L602.00,87.66 L604.50,87.47 L607.00,87.56 L609.50,87.70 L612.00,87.47 L614.50,87.72 L617.00,87.48 L619.50,87.90 L622.00,87.69 L624.50,87.70 L627.00,87.54 L629.50,87.48 L632.00,87.51 L634.50,87.29 L637.00,87.53 L639.50,87.56 L642.00,87.74 L644.50,87.71 L647.00,87.46 L649.50,87.58 L652.00,87.55 L654.50,87.61 L657.00,87.71 L659.50,87.70 L662.00,87.45 L664.50,87.68 L667.00,87.45 L669.50,87.60 L672.00,87.51 L674.50,87.55" stroke="#ac9cd8" stroke-width="0.8" fill="none" />
<path d="M552.00,94.83 L554.50,94.84 L557.00,94.96 L559.50,94.78 L562.00,94.77 L564.50,94.96 L567.00,94.94 L569.50,94.87 L572.00,95.02 L574.50,94.66 L577.00,94.83 L579.50,94.90 L582.00,95.02 L584.50,94.89 L587.00,94.98 L589.50,94.94 L592.00,94.85 L594.50,95.00 L597.00,94.97 L599.50,94.88 L602.00,94.92 L604.50,94.89 L607.00,94.82 L609.50,94.84 L612.00,95.00 L614.50,94.80 L617.00,94.85 L619.50,94.80 L622.00,94.81 L624.50,94.97 L627.00,95.04 L629.50,94.87 L632.00,94.99 L634.50,94.88 L637.00,94.94 L639.50,94.81 L642.00,94.76 L644.50,94.99 L647.00,94.90 L649.50,94.89 L652.00,94.93 L654.50,94.97 L657.00,94.88 L659.50,94.97 L662.00,94.82 L664.50,95.01 L667.00,94.96 L669.50,94.95 L672.00,94.89 L674.50,94.94" stroke="#b050bc" stroke-width="0.8" fill="none" />
<path d="M552.00,100.28 L554.50,100.36 L557.00,100.23 L559.50,100.29 L562.00,100.27 L564.50,100.43 L567.00,100.35 L569.50,100.27 L572.00,100.49 L574.50,100.20 L577.00,100.43 L579.50,100.18 L582.00,100.31 L584.50,100.30 L587.00,100.40 L589.50,100.27 L592.00,100.21 L594.50,100.27 L597.00,100.19 L599.50,99.99 L602.00,100.17 L604.50,100.28 L607.00,100.26 L609.50,100.22 L612.00,100.43 L614.50,100.22 L617.00,100.27 L619.50,100.19 L622.00,100.39 L624.50,100.29 L627.00,100.22 L629.50,100.26 L632.00,100.40 L634.50,100.29 L637.00,100.31 L639.50,100.40 L642.00,100.41 L644.50,100.26 L647.00,100.28 L649.50,100.15 L652.00,100.23 L654.50,100.24 L657.00,100.28 L659.50,100.35 L662.00,100.43 L664.50,100.17 L667.00,100.42 L669.50,100.19 L672.00,99.75 L674.50,100.44" stroke="#5aa8de" stroke-width="0.8" fill="none" />
<path d="M552.00,108.53 L554.50,108.49 L557.00,108.68 L559.50,108.50 L562.00,108.69 L564.50,108.72 L567.00,108.68 L569.50,108.72 L572.00,108.70 L574.50,108.66 L577.00,108.67 L579.50,108.71 L582.00,108.53 L584.50,108.49 L587.00,108.47 L589.50,108.49 L592.00,108.60 L594.50,109.12 L597.00,108.59 L599.50,108.65 L602.00,108.56 L604.50,108.90 L607.00,108.77 L609.50,108.65 L612.00,108.55 L614.50,108.60 L617.00,108.98 L619.50,108.64 L622.00,108.71 L624.50,108.59 L627.00,108.68 L629.50,108.58 L632.00,108.62 L634.50,108.54 L637.00,108.57 L639.50,108.53 L642.00,108.74 L644.50,108.69 L647.00,108.55 L649.50,108.63 L652.00,108.95 L654.50,108.72 L657.00,108.46 L659.50,108.45 L662.00,108.73 L664.50,108.65 L667.00,108.72 L669.50,108.64 L672.00,108.66 L674.50,108.65" stroke="#1f5286" stroke-width="0.8" fill="none" />
<path d="M552.00,114.35 L554.50,114.38 L557.00,114.53 L559.50,114.42 L562.00,114.26 L564.50,114.39 L567.00,114.23 L569.50,114.28 L572.00,114.28 L574.50,114.51 L577.00,114.16 L579.50,114.39 L582.00,114.43 L584.50,114.15 L587.00,114.33 L589.50,114.44 L592.00,114.27 L594.50,114.34 L597.00,113.60 L599.50,114.36 L602.00,114.44 L604.50,114.41 L607.00,114.16 L609.50,114.22 L612.00,114.54 L614.50,114.36 L617.00,114.37 L619.50,114.34 L622.00,114.29 L624.50,114.23 L627.00,113.78 L629.50,114.35 L632.00,114.17 L634.50,114.37 L637.00,114.41 L639.50,114.17 L642.00,114.32 L644.50,114.35 L647.00,114.39 L649.50,114.34 L652.00,114.28 L654.50,114.39 L657.00,114.39 L659.50,114.81 L662.00,114.36 L664.50,114.25 L667.00,114.44 L669.50,114.33 L672.00,114.28 L674.50,114.26" stroke="#3680c0" stroke-width="0.8" fill="none" />
<path d="M552.00,120.83 L554.50,120.89 L557.00,120.65 L559.50,120.78 L562.00,120.89 L564.50,120.66 L567.00,120.89 L569.50,120.82 L572.00,120.91 L574.50,120.86 L577.00,120.75 L579.50,120.82 L582.00,120.71 L584.50,120.93 L587.00,120.83 L589.50,120.79 L592.00,120.73 L594.50,120.89 L597.00,120.68 L599.50,120.88 L602.00,120.82 L604.50,120.92 L607.00,120.79 L609.50,120.71 L612.00,120.70 L614.50,120.76 L617.00,120.77 L619.50,121.29 L622.00,120.76 L624.50,120.84 L627.00,120.70 L629.50,120.75 L632.00,121.24 L634.50,120.91 L637.00,120.82 L639.50,120.88 L642.00,120.93 L644.50,120.90 L647.00,120.37 L649.50,120.70 L652.00,120.67 L654.50,120.91 L657.00,120.93 L659.50,120.67 L662.00,120.77 L664.50,120.94 L667.00,120.82 L669.50,120.94 L672.00,120.77 L674.50,120.70" stroke="#5aa6dc" stroke-width="0.8" fill="none" />
<text x="-0.20" y="171.3" font-size="12.5" font-weight="bold" fill="#000" stroke="#000" stroke-width="0.35">e</text>
<rect x="33.80" y="174.50" width="127.00" height="118.80" fill="none" stroke="#8c8c8c" stroke-width="0.8"/>
<line x1="30.60" y1="174.50" x2="33.80" y2="174.50" stroke="#8c8c8c" stroke-width="0.8" />
<text x="27.20" y="177.50" font-size="8.0" text-anchor="end" fill="#222222" stroke="#222222" stroke-width="0.1">10<tspan font-size="5.4" dy="-3.2">−3</tspan></text>
<line x1="30.60" y1="194.30" x2="33.80" y2="194.30" stroke="#8c8c8c" stroke-width="0.8" />
<text x="27.20" y="197.30" font-size="8.0" text-anchor="end" fill="#222222" stroke="#222222" stroke-width="0.1">10<tspan font-size="5.4" dy="-3.2">−4</tspan></text>
<line x1="30.60" y1="214.10" x2="33.80" y2="214.10" stroke="#8c8c8c" stroke-width="0.8" />
<text x="27.20" y="217.10" font-size="8.0" text-anchor="end" fill="#222222" stroke="#222222" stroke-width="0.1">10<tspan font-size="5.4" dy="-3.2">−5</tspan></text>
<line x1="30.60" y1="233.90" x2="33.80" y2="233.90" stroke="#8c8c8c" stroke-width="0.8" />
<text x="27.20" y="236.90" font-size="8.0" text-anchor="end" fill="#222222" stroke="#222222" stroke-width="0.1">10<tspan font-size="5.4" dy="-3.2">−6</tspan></text>
<line x1="30.60" y1="253.70" x2="33.80" y2="253.70" stroke="#8c8c8c" stroke-width="0.8" />
<text x="27.20" y="256.70" font-size="8.0" text-anchor="end" fill="#222222" stroke="#222222" stroke-width="0.1">10<tspan font-size="5.4" dy="-3.2">−7</tspan></text>
<line x1="30.60" y1="273.50" x2="33.80" y2="273.50" stroke="#8c8c8c" stroke-width="0.8" />
<text x="27.20" y="276.50" font-size="8.0" text-anchor="end" fill="#222222" stroke="#222222" stroke-width="0.1">10<tspan font-size="5.4" dy="-3.2">−8</tspan></text>
<line x1="30.60" y1="293.30" x2="33.80" y2="293.30" stroke="#8c8c8c" stroke-width="0.8" />
<text x="27.20" y="296.30" font-size="8.0" text-anchor="end" fill="#222222" stroke="#222222" stroke-width="0.1">10<tspan font-size="5.4" dy="-3.2">−9</tspan></text>
<line x1="31.80" y1="188.34" x2="33.80" y2="188.34" stroke="#7a7a7a" stroke-width="0.7" />
<line x1="31.80" y1="184.85" x2="33.80" y2="184.85" stroke="#7a7a7a" stroke-width="0.7" />
<line x1="31.80" y1="182.38" x2="33.80" y2="182.38" stroke="#7a7a7a" stroke-width="0.7" />
<line x1="31.80" y1="180.46" x2="33.80" y2="180.46" stroke="#7a7a7a" stroke-width="0.7" />
<line x1="31.80" y1="178.89" x2="33.80" y2="178.89" stroke="#7a7a7a" stroke-width="0.7" />
<line x1="31.80" y1="177.57" x2="33.80" y2="177.57" stroke="#7a7a7a" stroke-width="0.7" />
<line x1="31.80" y1="176.42" x2="33.80" y2="176.42" stroke="#7a7a7a" stroke-width="0.7" />
<line x1="31.80" y1="175.41" x2="33.80" y2="175.41" stroke="#7a7a7a" stroke-width="0.7" />
<line x1="31.80" y1="208.14" x2="33.80" y2="208.14" stroke="#7a7a7a" stroke-width="0.7" />
<line x1="31.80" y1="204.65" x2="33.80" y2="204.65" stroke="#7a7a7a" stroke-width="0.7" />
<line x1="31.80" y1="202.18" x2="33.80" y2="202.18" stroke="#7a7a7a" stroke-width="0.7" />
<line x1="31.80" y1="200.26" x2="33.80" y2="200.26" stroke="#7a7a7a" stroke-width="0.7" />
<line x1="31.80" y1="198.69" x2="33.80" y2="198.69" stroke="#7a7a7a" stroke-width="0.7" />
<line x1="31.80" y1="197.37" x2="33.80" y2="197.37" stroke="#7a7a7a" stroke-width="0.7" />
<line x1="31.80" y1="196.22" x2="33.80" y2="196.22" stroke="#7a7a7a" stroke-width="0.7" />
<line x1="31.80" y1="195.21" x2="33.80" y2="195.21" stroke="#7a7a7a" stroke-width="0.7" />
<line x1="31.80" y1="227.94" x2="33.80" y2="227.94" stroke="#7a7a7a" stroke-width="0.7" />
<line x1="31.80" y1="224.45" x2="33.80" y2="224.45" stroke="#7a7a7a" stroke-width="0.7" />
<line x1="31.80" y1="221.98" x2="33.80" y2="221.98" stroke="#7a7a7a" stroke-width="0.7" />
<line x1="31.80" y1="220.06" x2="33.80" y2="220.06" stroke="#7a7a7a" stroke-width="0.7" />
<line x1="31.80" y1="218.49" x2="33.80" y2="218.49" stroke="#7a7a7a" stroke-width="0.7" />
<line x1="31.80" y1="217.17" x2="33.80" y2="217.17" stroke="#7a7a7a" stroke-width="0.7" />
<line x1="31.80" y1="216.02" x2="33.80" y2="216.02" stroke="#7a7a7a" stroke-width="0.7" />
<line x1="31.80" y1="215.01" x2="33.80" y2="215.01" stroke="#7a7a7a" stroke-width="0.7" />
<line x1="31.80" y1="247.74" x2="33.80" y2="247.74" stroke="#7a7a7a" stroke-width="0.7" />
<line x1="31.80" y1="244.25" x2="33.80" y2="244.25" stroke="#7a7a7a" stroke-width="0.7" />
<line x1="31.80" y1="241.78" x2="33.80" y2="241.78" stroke="#7a7a7a" stroke-width="0.7" />
<line x1="31.80" y1="239.86" x2="33.80" y2="239.86" stroke="#7a7a7a" stroke-width="0.7" />
<line x1="31.80" y1="238.29" x2="33.80" y2="238.29" stroke="#7a7a7a" stroke-width="0.7" />
<line x1="31.80" y1="236.97" x2="33.80" y2="236.97" stroke="#7a7a7a" stroke-width="0.7" />
<line x1="31.80" y1="235.82" x2="33.80" y2="235.82" stroke="#7a7a7a" stroke-width="0.7" />
<line x1="31.80" y1="234.81" x2="33.80" y2="234.81" stroke="#7a7a7a" stroke-width="0.7" />
<line x1="31.80" y1="267.54" x2="33.80" y2="267.54" stroke="#7a7a7a" stroke-width="0.7" />
<line x1="31.80" y1="264.05" x2="33.80" y2="264.05" stroke="#7a7a7a" stroke-width="0.7" />
<line x1="31.80" y1="261.58" x2="33.80" y2="261.58" stroke="#7a7a7a" stroke-width="0.7" />
<line x1="31.80" y1="259.66" x2="33.80" y2="259.66" stroke="#7a7a7a" stroke-width="0.7" />
<line x1="31.80" y1="258.09" x2="33.80" y2="258.09" stroke="#7a7a7a" stroke-width="0.7" />
<line x1="31.80" y1="256.77" x2="33.80" y2="256.77" stroke="#7a7a7a" stroke-width="0.7" />
<line x1="31.80" y1="255.62" x2="33.80" y2="255.62" stroke="#7a7a7a" stroke-width="0.7" />
<line x1="31.80" y1="254.61" x2="33.80" y2="254.61" stroke="#7a7a7a" stroke-width="0.7" />
<line x1="31.80" y1="287.34" x2="33.80" y2="287.34" stroke="#7a7a7a" stroke-width="0.7" />
<line x1="31.80" y1="283.85" x2="33.80" y2="283.85" stroke="#7a7a7a" stroke-width="0.7" />
<line x1="31.80" y1="281.38" x2="33.80" y2="281.38" stroke="#7a7a7a" stroke-width="0.7" />
<line x1="31.80" y1="279.46" x2="33.80" y2="279.46" stroke="#7a7a7a" stroke-width="0.7" />
<line x1="31.80" y1="277.89" x2="33.80" y2="277.89" stroke="#7a7a7a" stroke-width="0.7" />
<line x1="31.80" y1="276.57" x2="33.80" y2="276.57" stroke="#7a7a7a" stroke-width="0.7" />
<line x1="31.80" y1="275.42" x2="33.80" y2="275.42" stroke="#7a7a7a" stroke-width="0.7" />
<line x1="31.80" y1="274.41" x2="33.80" y2="274.41" stroke="#7a7a7a" stroke-width="0.7" />
<line x1="46.50" y1="293.30" x2="46.50" y2="296.50" stroke="#8c8c8c" stroke-width="0.8" />
<text x="45.50" y="305.80" font-size="7.8" text-anchor="middle" fill="#222222" stroke="#222222" stroke-width="0.1" font-weight="normal" >−4</text>
<line x1="71.90" y1="293.30" x2="71.90" y2="296.50" stroke="#8c8c8c" stroke-width="0.8" />
<text x="70.90" y="305.80" font-size="7.8" text-anchor="middle" fill="#222222" stroke="#222222" stroke-width="0.1" font-weight="normal" >−2</text>
<line x1="97.30" y1="293.30" x2="97.30" y2="296.50" stroke="#8c8c8c" stroke-width="0.8" />
<text x="97.30" y="305.80" font-size="7.8" text-anchor="middle" fill="#222222" stroke="#222222" stroke-width="0.1" font-weight="normal" >0</text>
<line x1="122.70" y1="293.30" x2="122.70" y2="296.50" stroke="#8c8c8c" stroke-width="0.8" />
<text x="122.70" y="305.80" font-size="7.8" text-anchor="middle" fill="#222222" stroke="#222222" stroke-width="0.1" font-weight="normal" >2</text>
<line x1="148.10" y1="293.30" x2="148.10" y2="296.50" stroke="#8c8c8c" stroke-width="0.8" />
<text x="148.10" y="305.80" font-size="7.8" text-anchor="middle" fill="#222222" stroke="#222222" stroke-width="0.1" font-weight="normal" >4</text>
<text x="97.30" y="318.00" font-size="8.9" text-anchor="middle" fill="#222222" stroke="#222222" stroke-width="0.1" font-weight="normal" >Voltage (V)</text>
<text x="0" y="0" font-size="8.9" text-anchor="middle" fill="#222222" stroke="#222222" stroke-width="0.1" transform="translate(8.30,233.50) rotate(-90)">Current (A)</text>
<path d="M33.90,183.10 C35.75,183.62 41.48,185.18 45.00,186.25 C48.52,187.32 51.67,188.25 55.00,189.50 C58.33,190.75 62.50,192.58 65.00,193.75 C67.50,194.92 68.33,195.46 70.00,196.50 C71.67,197.54 73.33,198.68 75.00,200.00 C76.67,201.32 78.54,202.94 80.00,204.40 C81.46,205.86 82.50,207.19 83.75,208.75 C85.00,210.31 86.36,211.97 87.50,213.75 C88.64,215.53 89.67,217.53 90.60,219.40 C91.53,221.28 92.37,223.03 93.10,225.00 C93.83,226.97 94.55,229.42 95.00,231.25 C95.45,233.08 95.57,234.04 95.80,236.00 C96.03,237.96 96.22,240.17 96.40,243.00 C96.58,245.83 96.78,249.17 96.90,253.00 C97.03,256.83 97.08,259.33 97.15,266.00 C97.22,272.67 97.28,288.50 97.30,293.00" stroke="#1e1e1e" stroke-width="1.6" fill="none" />
<path d="M97.30,293.00 C97.32,288.33 97.32,272.17 97.40,265.00 C97.48,257.83 97.57,254.68 97.80,250.00 C98.03,245.32 98.17,240.97 98.80,236.90 C99.43,232.83 100.35,229.35 101.60,225.60 C102.85,221.85 104.58,217.52 106.30,214.40 C108.02,211.28 109.62,209.57 111.90,206.90 C114.18,204.23 116.98,200.97 120.00,198.40 C123.02,195.83 126.25,193.68 130.00,191.50 C133.75,189.32 138.83,186.88 142.50,185.30 C146.17,183.72 148.98,182.92 152.00,182.00 C155.02,181.08 159.17,180.17 160.60,179.80" stroke="#1e1e1e" stroke-width="0.85" fill="none" />
<path d="M97.30,293.00 C97.35,288.33 97.43,272.17 97.60,265.00 C97.77,257.83 97.93,254.58 98.30,250.00 C98.67,245.42 99.05,241.37 99.80,237.50 C100.55,233.63 101.50,230.35 102.80,226.80 C104.10,223.25 105.87,219.20 107.60,216.20 C109.33,213.20 110.93,211.40 113.20,208.80 C115.47,206.20 118.23,203.17 121.20,200.60 C124.17,198.03 127.45,195.73 131.00,193.40 C134.55,191.07 139.00,188.35 142.50,186.60 C146.00,184.85 148.98,183.97 152.00,182.90 C155.02,181.83 159.17,180.65 160.60,180.20" stroke="#1e1e1e" stroke-width="0.85" fill="none" />
<path d="M54.64,198.34 L53.92,198.10 L53.23,197.77 L52.58,197.37 L51.97,196.91 L51.41,196.37 L50.90,195.78 L50.46,195.14 L50.08,194.45 L49.78,193.72 L49.55,192.97 L49.39,192.19 L49.31,191.40 L49.31,190.60 L49.39,189.81 L49.55,189.03 L49.78,188.28 L50.08,187.55 L50.46,186.86 L50.90,186.22 L51.41,185.63 L51.97,185.09 L52.58,184.63 L53.23,184.23 L53.92,183.90 L54.64,183.66 L55.37,183.49 L56.12,183.41 L56.88,183.41 L57.63,183.49 L58.36,183.66" stroke="#3566b8" stroke-width="1.25" fill="none" stroke-dasharray="2.4 1.3" stroke-linecap="butt"/>
<path d="M60.71,184.18 L56.97,185.29 L57.80,181.59 Z" fill="#3566b8"/>
<path d="M145.57,192.97 L146.45,193.15 L147.35,193.20 L148.24,193.11 L149.11,192.88 L149.95,192.52 L150.72,192.04 L151.43,191.44 L152.05,190.74 L152.57,189.95 L152.98,189.09 L153.28,188.18 L153.45,187.23 L153.50,186.26 L153.42,185.30 L153.21,184.36 L152.88,183.45 L152.43,182.61 L151.88,181.85 L151.24,181.18 L150.51,180.61 L149.71,180.16 L148.87,179.84 L147.99,179.65 L147.09,179.60 L146.20,179.69 L145.32,179.91 L144.49,180.26 L143.71,180.74 L143.00,181.33 L142.37,182.03" stroke="#3566b8" stroke-width="1.25" fill="none" stroke-dasharray="2.4 1.3" stroke-linecap="butt"/>
<path d="M140.77,183.82 L141.63,180.02 L144.46,182.55 Z" fill="#3566b8"/>
<text x="38.80" y="256.00" font-size="7.5" text-anchor="start" fill="#222" stroke="#222" stroke-width="0.1" font-weight="normal" >Pd–Pd with</text>
<text x="38.80" y="264.30" font-size="7.5" text-anchor="start" fill="#222" stroke="#222" stroke-width="0.1" font-weight="normal" >short-term</text>
<text x="38.80" y="272.60" font-size="7.5" text-anchor="start" fill="#222" stroke="#222" stroke-width="0.1" font-weight="normal" >memory</text>
<text x="44.60" y="85.80" font-size="7.6" text-anchor="start" fill="#222" stroke="#222" stroke-width="0.1" font-weight="normal" >Pd–Au with</text>
<text x="44.60" y="94.10" font-size="7.6" text-anchor="start" fill="#222" stroke="#222" stroke-width="0.1" font-weight="normal" >long-term</text>
<text x="44.60" y="102.40" font-size="7.6" text-anchor="start" fill="#222" stroke="#222" stroke-width="0.1" font-weight="normal" >memory</text>
<text x="172.80" y="170.3" font-size="12.5" font-weight="bold" fill="#000" stroke="#000" stroke-width="0.35">f</text>
<rect x="210.30" y="174.30" width="128.90" height="28.10" fill="none" stroke="#8c8c8c" stroke-width="0.8"/>
<line x1="206.90" y1="177.30" x2="210.30" y2="177.30" stroke="#8c8c8c" stroke-width="0.8" />
<text x="203.50" y="179.90" font-size="7.8" text-anchor="end" fill="#222222" stroke="#222222" stroke-width="0.1" font-weight="normal" >5</text>
<line x1="206.90" y1="202.40" x2="210.30" y2="202.40" stroke="#8c8c8c" stroke-width="0.8" />
<text x="203.50" y="205.00" font-size="7.8" text-anchor="end" fill="#222222" stroke="#222222" stroke-width="0.1" font-weight="normal" >0</text>
<text x="0" y="0" font-size="8.9" text-anchor="middle" fill="#222222" stroke="#222222" stroke-width="0.1" transform="translate(191.20,189.00) rotate(-90)">Voltage (V)</text>
<path d="M210.30,202.40 L210.90,202.40 L215.20,177.30 L227.60,177.30 L232.20,202.40 L245.27,202.40 L249.57,177.30 L261.97,177.30 L266.57,202.40 L279.64,202.40 L283.94,177.30 L296.34,177.30 L300.94,202.40 L314.01,202.40 L318.31,177.30 L330.71,177.30 L335.31,202.40 L339.20,202.40" stroke="#222" stroke-width="0.8" fill="none" />
<rect x="210.30" y="212.90" width="128.90" height="80.40" fill="none" stroke="#8c8c8c" stroke-width="0.8"/>
<line x1="206.90" y1="293.30" x2="210.30" y2="293.30" stroke="#8c8c8c" stroke-width="0.8" />
<text x="203.50" y="295.90" font-size="7.8" text-anchor="end" fill="#222222" stroke="#222222" stroke-width="0.1" font-weight="normal" >0</text>
<line x1="206.90" y1="268.05" x2="210.30" y2="268.05" stroke="#8c8c8c" stroke-width="0.8" />
<text x="203.50" y="270.65" font-size="7.8" text-anchor="end" fill="#222222" stroke="#222222" stroke-width="0.1" font-weight="normal" >100</text>
<line x1="206.90" y1="242.80" x2="210.30" y2="242.80" stroke="#8c8c8c" stroke-width="0.8" />
<text x="203.50" y="245.40" font-size="7.8" text-anchor="end" fill="#222222" stroke="#222222" stroke-width="0.1" font-weight="normal" >200</text>
<line x1="206.90" y1="217.55" x2="210.30" y2="217.55" stroke="#8c8c8c" stroke-width="0.8" />
<text x="203.50" y="220.15" font-size="7.8" text-anchor="end" fill="#222222" stroke="#222222" stroke-width="0.1" font-weight="normal" >300</text>
<line x1="210.40" y1="293.30" x2="210.40" y2="296.50" stroke="#8c8c8c" stroke-width="0.8" />
<text x="210.40" y="305.30" font-size="7.8" text-anchor="middle" fill="#222222" stroke="#222222" stroke-width="0.1" font-weight="normal" >0</text>
<line x1="244.77" y1="293.30" x2="244.77" y2="296.50" stroke="#8c8c8c" stroke-width="0.8" />
<text x="244.77" y="305.30" font-size="7.8" text-anchor="middle" fill="#222222" stroke="#222222" stroke-width="0.1" font-weight="normal" >1</text>
<line x1="279.14" y1="293.30" x2="279.14" y2="296.50" stroke="#8c8c8c" stroke-width="0.8" />
<text x="279.14" y="305.30" font-size="7.8" text-anchor="middle" fill="#222222" stroke="#222222" stroke-width="0.1" font-weight="normal" >2</text>
<line x1="313.51" y1="293.30" x2="313.51" y2="296.50" stroke="#8c8c8c" stroke-width="0.8" />
<text x="313.51" y="305.30" font-size="7.8" text-anchor="middle" fill="#222222" stroke="#222222" stroke-width="0.1" font-weight="normal" >3</text>
<text x="274.60" y="318.20" font-size="8.9" text-anchor="middle" fill="#222222" stroke="#222222" stroke-width="0.1" font-weight="normal" >Time (μs)</text>
<text x="0" y="0" font-size="8.9" text-anchor="middle" fill="#222222" stroke="#222222" stroke-width="0.1" transform="translate(182.80,252.50) rotate(-90)">Current (μA)</text>
<path d="M210.40,293.20 C210.56,292.60 212.17,286.65 212.50,285.20 C212.83,283.75 214.50,274.66 214.85,273.90 C215.20,273.14 216.87,275.10 217.20,275.10 C217.53,275.10 218.92,274.26 219.30,273.90 C219.68,273.54 221.86,271.06 222.30,270.30 C222.74,269.54 224.76,264.80 225.20,263.80 C225.64,262.80 227.86,257.18 228.20,257.00 C228.54,256.82 229.41,259.84 229.70,261.40 C229.99,262.96 231.70,276.73 232.10,277.80 C232.50,278.87 234.51,275.77 235.00,275.70 C235.49,275.63 237.89,276.57 238.60,276.90 C239.31,277.23 243.88,280.47 244.50,280.10 C245.12,279.73 246.46,273.73 246.80,272.00 C247.14,270.27 248.50,258.69 249.00,257.00 C249.50,255.31 252.83,250.84 253.50,249.50 C254.17,248.16 257.23,240.65 257.90,239.20 C258.57,237.75 261.84,229.64 262.40,230.20 C262.95,230.75 264.97,244.66 265.30,246.60 C265.63,248.54 266.53,255.32 266.80,256.10 C267.07,256.88 267.94,256.08 268.90,257.00 C269.86,257.92 278.42,269.31 279.60,268.30 C280.78,267.30 283.93,246.01 284.60,243.60 C285.27,241.19 287.94,237.42 288.50,236.20 C289.06,234.98 291.43,228.64 292.10,227.30 C292.77,225.97 296.84,218.29 297.40,218.40 C297.95,218.51 299.23,226.57 299.50,228.80 C299.77,231.03 300.66,246.44 301.00,248.10 C301.34,249.76 303.00,249.82 304.00,251.00 C305.00,252.18 313.19,264.58 314.30,263.80 C315.41,263.02 318.02,243.22 318.80,240.60 C319.58,237.97 323.74,230.62 324.70,228.80 C325.66,226.98 330.82,216.08 331.60,216.30 C332.38,216.52 334.73,229.38 335.10,231.70 C335.48,234.02 336.31,245.97 336.60,247.20 C336.89,248.43 338.82,248.03 339.00,248.10" stroke="#3d97d3" stroke-width="0.95" fill="none" stroke-linejoin="round"/>
<path d="M211.6,266.2 L273.8,217.6" stroke="#222" stroke-width="1.05" fill="none" stroke-dasharray="2.6 1.8"/>
<path d="M277.6,214.5 L271.9,216.0 L274.6,219.5 Z" fill="#222"/>
<text x="0" y="0" font-size="7.75" fill="#222" stroke="#222" stroke-width="0.1" transform="translate(214.0,257.6) rotate(-36.3)">Current increasing</text>
<text x="349.50" y="170.6" font-size="12.5" font-weight="bold" fill="#000" stroke="#000" stroke-width="0.35">g</text>
<rect x="382.70" y="178.80" width="124.30" height="28.50" fill="none" stroke="#8c8c8c" stroke-width="0.8"/>
<line x1="379.30" y1="181.60" x2="382.70" y2="181.60" stroke="#8c8c8c" stroke-width="0.8" />
<text x="376.00" y="184.20" font-size="7.8" text-anchor="end" fill="#222222" stroke="#222222" stroke-width="0.1" font-weight="normal" >5</text>
<line x1="379.30" y1="207.30" x2="382.70" y2="207.30" stroke="#8c8c8c" stroke-width="0.8" />
<text x="376.00" y="209.90" font-size="7.8" text-anchor="end" fill="#222222" stroke="#222222" stroke-width="0.1" font-weight="normal" >0</text>
<text x="0" y="0" font-size="8.9" text-anchor="middle" fill="#222222" stroke="#222222" stroke-width="0.1" transform="translate(366.40,194.30) rotate(-90)">Voltage (V)</text>
<path d="M382.7,207.0 L387.2,207.0 L387.6,181.6 L388.6,181.6 L389.0,207.0 L507,207.0" stroke="#1a1a1a" stroke-width="1.0" fill="none" />
<rect x="382.70" y="217.60" width="124.30" height="76.30" fill="none" stroke="#8c8c8c" stroke-width="0.8"/>
<line x1="379.30" y1="289.20" x2="382.70" y2="289.20" stroke="#8c8c8c" stroke-width="0.8" />
<text x="376.00" y="291.80" font-size="7.8" text-anchor="end" fill="#222222" stroke="#222222" stroke-width="0.1" font-weight="normal" >0</text>
<line x1="379.30" y1="274.70" x2="382.70" y2="274.70" stroke="#8c8c8c" stroke-width="0.8" />
<text x="376.00" y="277.30" font-size="7.8" text-anchor="end" fill="#222222" stroke="#222222" stroke-width="0.1" font-weight="normal" >20</text>
<line x1="379.30" y1="260.20" x2="382.70" y2="260.20" stroke="#8c8c8c" stroke-width="0.8" />
<text x="376.00" y="262.80" font-size="7.8" text-anchor="end" fill="#222222" stroke="#222222" stroke-width="0.1" font-weight="normal" >40</text>
<line x1="379.30" y1="245.70" x2="382.70" y2="245.70" stroke="#8c8c8c" stroke-width="0.8" />
<text x="376.00" y="248.30" font-size="7.8" text-anchor="end" fill="#222222" stroke="#222222" stroke-width="0.1" font-weight="normal" >60</text>
<line x1="379.30" y1="231.20" x2="382.70" y2="231.20" stroke="#8c8c8c" stroke-width="0.8" />
<text x="376.00" y="233.80" font-size="7.8" text-anchor="end" fill="#222222" stroke="#222222" stroke-width="0.1" font-weight="normal" >80</text>
<line x1="382.60" y1="293.90" x2="382.60" y2="297.10" stroke="#8c8c8c" stroke-width="0.8" />
<text x="382.60" y="305.80" font-size="7.8" text-anchor="middle" fill="#222222" stroke="#222222" stroke-width="0.1" font-weight="normal" >0</text>
<line x1="407.45" y1="293.90" x2="407.45" y2="297.10" stroke="#8c8c8c" stroke-width="0.8" />
<text x="407.45" y="305.80" font-size="7.8" text-anchor="middle" fill="#222222" stroke="#222222" stroke-width="0.1" font-weight="normal" >10</text>
<line x1="432.30" y1="293.90" x2="432.30" y2="297.10" stroke="#8c8c8c" stroke-width="0.8" />
<text x="432.30" y="305.80" font-size="7.8" text-anchor="middle" fill="#222222" stroke="#222222" stroke-width="0.1" font-weight="normal" >20</text>
<line x1="457.15" y1="293.90" x2="457.15" y2="297.10" stroke="#8c8c8c" stroke-width="0.8" />
<text x="457.15" y="305.80" font-size="7.8" text-anchor="middle" fill="#222222" stroke="#222222" stroke-width="0.1" font-weight="normal" >30</text>
<line x1="482.00" y1="293.90" x2="482.00" y2="297.10" stroke="#8c8c8c" stroke-width="0.8" />
<text x="482.00" y="305.80" font-size="7.8" text-anchor="middle" fill="#222222" stroke="#222222" stroke-width="0.1" font-weight="normal" >40</text>
<line x1="506.85" y1="293.90" x2="506.85" y2="297.10" stroke="#8c8c8c" stroke-width="0.8" />
<text x="506.85" y="305.80" font-size="7.8" text-anchor="middle" fill="#222222" stroke="#222222" stroke-width="0.1" font-weight="normal" >50</text>
<text x="443.80" y="318.20" font-size="8.9" text-anchor="middle" fill="#222222" stroke="#222222" stroke-width="0.1" font-weight="normal" >Time (μs)</text>
<text x="0" y="0" font-size="8.9" text-anchor="middle" fill="#222222" stroke="#222222" stroke-width="0.1" transform="translate(360.90,255.50) rotate(-90)">Current (μA)</text>
<path d="M382.60,289.20 L387.00,289.20 L387.40,221.00 L388.50,221.00 L388.90,273.03 L389.06,273.47 L389.68,274.51 L390.30,275.46 L390.92,276.32 L391.55,277.11 L392.17,277.83 L392.79,278.49 L393.41,279.10 L394.03,279.65 L394.65,280.16 L395.27,280.63 L395.89,281.06 L396.52,281.45 L397.14,281.81 L397.76,282.15 L398.38,282.46 L399.00,282.75 L399.62,283.01 L400.24,283.26 L400.86,283.48 L401.49,283.70 L402.11,283.89 L402.73,284.08 L403.35,284.25 L403.97,284.41 L404.59,284.56 L405.21,284.70 L405.83,284.83 L406.46,284.95 L407.08,285.07 L407.70,285.18 L408.32,285.28 L408.94,285.38 L409.56,285.48 L410.18,285.56 L410.80,285.65 L411.43,285.73 L412.05,285.81 L412.67,285.88 L413.29,285.95 L413.91,286.02 L414.53,286.08 L415.15,286.14 L415.77,286.20 L416.40,286.26 L417.02,286.31 L417.64,286.36 L418.26,286.41 L418.88,286.46 L419.50,286.51 L420.12,286.56 L420.74,286.60 L421.37,286.64 L421.99,286.69 L422.61,286.73 L423.23,286.77 L423.85,286.80 L424.47,286.84 L425.09,286.88 L425.71,286.91 L426.34,286.95 L426.96,286.98 L427.58,287.01 L428.20,287.04 L428.82,287.08 L429.44,287.11 L430.06,287.13 L430.68,287.16 L431.31,287.19 L431.93,287.22 L432.55,287.25 L433.17,287.27 L433.79,287.30 L434.41,287.32 L435.03,287.35 L435.65,287.37 L436.28,287.39 L436.90,287.42 L437.52,287.44 L438.14,287.46 L438.76,287.48 L439.38,287.50 L440.00,287.52 L440.62,287.54 L441.25,287.56 L441.87,287.58 L442.49,287.60 L443.11,287.62 L443.73,287.63 L444.35,287.65 L444.97,287.67 L445.59,287.69 L446.22,287.70 L446.84,287.72 L447.46,287.73 L448.08,287.75 L448.70,287.76 L449.32,287.78 L449.94,287.79 L450.56,287.81 L451.19,287.82 L451.81,287.83 L452.43,287.85 L453.05,287.86 L453.67,287.87 L454.29,287.89 L454.91,287.90 L455.53,287.91 L456.16,287.92 L456.78,287.93 L457.40,287.94 L458.02,287.96 L458.64,287.97 L459.26,287.98 L459.88,287.99 L460.50,288.00 L461.13,288.01 L461.75,288.02 L462.37,288.03 L462.99,288.04 L463.61,288.04 L464.23,288.05 L464.85,288.06 L465.47,288.07 L466.10,288.08 L466.72,288.09 L467.34,288.09 L467.96,288.10 L468.58,288.11 L469.20,288.12 L469.82,288.13 L470.44,288.13 L471.07,288.14 L471.69,288.15 L472.31,288.15 L472.93,288.16 L473.55,288.17 L474.17,288.17 L474.79,288.18 L475.41,288.18 L476.04,288.19 L476.66,288.20 L477.28,288.20 L477.90,288.21 L478.52,288.21 L479.14,288.22 L479.76,288.22 L480.38,288.23 L481.01,288.23 L481.63,288.24 L482.25,288.24 L482.87,288.25 L483.49,288.25 L484.11,288.26 L484.73,288.26 L485.35,288.27 L485.98,288.27 L486.60,288.28 L487.22,288.28 L487.84,288.28 L488.46,288.29 L489.08,288.29 L489.70,288.30 L490.32,288.30 L490.95,288.30 L491.57,288.31 L492.19,288.31 L492.81,288.31 L493.43,288.32 L494.05,288.32 L494.67,288.32 L495.29,288.33 L495.92,288.33 L496.54,288.33 L497.16,288.34 L497.78,288.34 L498.40,288.34 L499.02,288.34 L499.64,288.35 L500.26,288.35 L500.89,288.35 L501.51,288.35 L502.13,288.36 L502.75,288.36 L503.37,288.36 L503.99,288.36 L504.61,288.37 L505.23,288.37 L505.86,288.37 L506.48,288.37" stroke="#5aa6dc" stroke-width="1.0" fill="none" />
<circle cx="387.95" cy="234.0" r="1.0" fill="#5aa6dc"/>
<rect x="406.6" y="217.6" width="92.89999999999998" height="50.29999999999998" fill="#fff" stroke="#8c8c8c" stroke-width="0.8"/>
<line x1="404.60" y1="268.10" x2="406.60" y2="268.10" stroke="#8c8c8c" stroke-width="0.8" />
<text x="404.20" y="270.70" font-size="7.0" text-anchor="end" fill="#222222" stroke="#222222" stroke-width="0.1" font-weight="normal" >0</text>
<line x1="404.60" y1="249.50" x2="406.60" y2="249.50" stroke="#8c8c8c" stroke-width="0.8" />
<text x="404.20" y="252.10" font-size="7.0" text-anchor="end" fill="#222222" stroke="#222222" stroke-width="0.1" font-weight="normal" >10</text>
<line x1="404.60" y1="230.90" x2="406.60" y2="230.90" stroke="#8c8c8c" stroke-width="0.8" />
<text x="404.20" y="233.50" font-size="7.0" text-anchor="end" fill="#222222" stroke="#222222" stroke-width="0.1" font-weight="normal" >20</text>
<line x1="408.60" y1="267.90" x2="408.60" y2="269.90" stroke="#8c8c8c" stroke-width="0.8" />
<text x="408.60" y="275.50" font-size="6.8" text-anchor="middle" fill="#222222" stroke="#222222" stroke-width="0" font-weight="normal" >2.5</text>
<line x1="433.20" y1="267.90" x2="433.20" y2="269.90" stroke="#8c8c8c" stroke-width="0.8" />
<text x="433.20" y="275.50" font-size="6.8" text-anchor="middle" fill="#222222" stroke="#222222" stroke-width="0" font-weight="normal" >10.0</text>
<line x1="466.00" y1="267.90" x2="466.00" y2="269.90" stroke="#8c8c8c" stroke-width="0.8" />
<text x="466.00" y="275.50" font-size="6.8" text-anchor="middle" fill="#222222" stroke="#222222" stroke-width="0" font-weight="normal" >20.0</text>
<line x1="498.80" y1="267.90" x2="498.80" y2="269.90" stroke="#8c8c8c" stroke-width="0.8" />
<text x="498.80" y="275.50" font-size="6.8" text-anchor="middle" fill="#222222" stroke="#222222" stroke-width="0" font-weight="normal" >30.0</text>
<text x="453.00" y="283.00" font-size="7.4" text-anchor="middle" fill="#222222" stroke="#222222" stroke-width="0.1" font-weight="normal" >Time (μs)</text>
<text x="0" y="0" font-size="7.6" text-anchor="middle" fill="#222222" stroke="#222222" stroke-width="0.1" transform="translate(395.00,241.80) rotate(-90)">Current (μA)</text>
<circle cx="408.60" cy="221.24" r="1.3" fill="none" stroke="#5aa2de" stroke-width="0.9"/>
<circle cx="411.88" cy="230.07" r="1.3" fill="none" stroke="#5aa2de" stroke-width="0.9"/>
<circle cx="415.16" cy="236.64" r="1.3" fill="none" stroke="#5aa2de" stroke-width="0.9"/>
<circle cx="418.44" cy="241.47" r="1.3" fill="none" stroke="#5aa2de" stroke-width="0.9"/>
<circle cx="421.72" cy="245.55" r="1.3" fill="none" stroke="#5aa2de" stroke-width="0.9"/>
<circle cx="425.00" cy="248.18" r="1.3" fill="none" stroke="#5aa2de" stroke-width="0.9"/>
<circle cx="428.28" cy="251.00" r="1.3" fill="none" stroke="#5aa2de" stroke-width="0.9"/>
<circle cx="431.56" cy="253.42" r="1.3" fill="none" stroke="#5aa2de" stroke-width="0.9"/>
<circle cx="434.84" cy="256.49" r="1.3" fill="none" stroke="#5aa2de" stroke-width="0.9"/>
<circle cx="438.12" cy="256.94" r="1.3" fill="none" stroke="#5aa2de" stroke-width="0.9"/>
<circle cx="441.40" cy="258.33" r="1.3" fill="none" stroke="#5aa2de" stroke-width="0.9"/>
<circle cx="444.68" cy="259.46" r="1.3" fill="none" stroke="#5aa2de" stroke-width="0.9"/>
<circle cx="447.96" cy="259.81" r="1.3" fill="none" stroke="#5aa2de" stroke-width="0.9"/>
<circle cx="451.24" cy="261.89" r="1.3" fill="none" stroke="#5aa2de" stroke-width="0.9"/>
<circle cx="454.52" cy="262.33" r="1.3" fill="none" stroke="#5aa2de" stroke-width="0.9"/>
<circle cx="457.80" cy="261.89" r="1.3" fill="none" stroke="#5aa2de" stroke-width="0.9"/>
<circle cx="461.08" cy="262.00" r="1.3" fill="none" stroke="#5aa2de" stroke-width="0.9"/>
<circle cx="464.36" cy="262.70" r="1.3" fill="none" stroke="#5aa2de" stroke-width="0.9"/>
<circle cx="467.64" cy="263.52" r="1.3" fill="none" stroke="#5aa2de" stroke-width="0.9"/>
<circle cx="470.92" cy="263.30" r="1.3" fill="none" stroke="#5aa2de" stroke-width="0.9"/>
<circle cx="474.20" cy="263.22" r="1.3" fill="none" stroke="#5aa2de" stroke-width="0.9"/>
<circle cx="477.48" cy="264.33" r="1.3" fill="none" stroke="#5aa2de" stroke-width="0.9"/>
<circle cx="480.76" cy="264.12" r="1.3" fill="none" stroke="#5aa2de" stroke-width="0.9"/>
<circle cx="484.04" cy="264.32" r="1.3" fill="none" stroke="#5aa2de" stroke-width="0.9"/>
<circle cx="487.32" cy="264.59" r="1.3" fill="none" stroke="#5aa2de" stroke-width="0.9"/>
<circle cx="490.60" cy="264.12" r="1.3" fill="none" stroke="#5aa2de" stroke-width="0.9"/>
<circle cx="493.88" cy="264.64" r="1.3" fill="none" stroke="#5aa2de" stroke-width="0.9"/>
<circle cx="497.16" cy="264.58" r="1.3" fill="none" stroke="#5aa2de" stroke-width="0.9"/>
<path d="M408.60,221.97 L409.26,223.63 L409.91,225.23 L410.57,226.77 L411.22,228.24 L411.88,229.66 L412.54,231.02 L413.19,232.33 L413.85,233.59 L414.50,234.79 L415.16,235.95 L415.82,237.07 L416.47,238.14 L417.13,239.17 L417.78,240.16 L418.44,241.11 L419.10,242.02 L419.75,242.90 L420.41,243.74 L421.06,244.55 L421.72,245.32 L422.38,246.07 L423.03,246.79 L423.69,247.48 L424.34,248.14 L425.00,248.78 L425.66,249.39 L426.31,249.98 L426.97,250.54 L427.62,251.09 L428.28,251.61 L428.94,252.11 L429.59,252.59 L430.25,253.05 L430.90,253.50 L431.56,253.92 L432.22,254.33 L432.87,254.73 L433.53,255.10 L434.18,255.47 L434.84,255.82 L435.50,256.15 L436.15,256.48 L436.81,256.79 L437.46,257.08 L438.12,257.37 L438.78,257.64 L439.43,257.91 L440.09,258.16 L440.74,258.41 L441.40,258.64 L442.06,258.87 L442.71,259.08 L443.37,259.29 L444.02,259.49 L444.68,259.68 L445.34,259.87 L445.99,260.04 L446.65,260.21 L447.30,260.38 L447.96,260.53 L448.62,260.68 L449.27,260.83 L449.93,260.97 L450.58,261.10 L451.24,261.23 L451.90,261.35 L452.55,261.47 L453.21,261.59 L453.86,261.70 L454.52,261.80 L455.18,261.90 L455.83,262.00 L456.49,262.09 L457.14,262.18 L457.80,262.27 L458.46,262.35 L459.11,262.43 L459.77,262.51 L460.42,262.58 L461.08,262.65 L461.74,262.72 L462.39,262.78 L463.05,262.85 L463.70,262.91 L464.36,262.96 L465.02,263.02 L465.67,263.07 L466.33,263.12 L466.98,263.17 L467.64,263.22 L468.30,263.27 L468.95,263.31 L469.61,263.35 L470.26,263.39 L470.92,263.43 L471.58,263.47 L472.23,263.50 L472.89,263.54 L473.54,263.57 L474.20,263.60 L474.86,263.63 L475.51,263.66 L476.17,263.69 L476.82,263.72 L477.48,263.74 L478.14,263.77 L478.79,263.79 L479.45,263.82 L480.10,263.84 L480.76,263.86 L481.42,263.88 L482.07,263.90 L482.73,263.92 L483.38,263.94 L484.04,263.95 L484.70,263.97 L485.35,263.99 L486.01,264.00 L486.66,264.02 L487.32,264.03 L487.98,264.04 L488.63,264.06 L489.29,264.07 L489.94,264.08 L490.60,264.09 L491.26,264.11 L491.91,264.12 L492.57,264.13 L493.22,264.14 L493.88,264.15 L494.54,264.16 L495.19,264.16 L495.85,264.17 L496.50,264.18 L497.16,264.19 L497.82,264.20 L498.47,264.20 L499.13,264.21" stroke="#111" stroke-width="1.5" fill="none" stroke-dasharray="3.2 1.3"/>
<circle cx="444.8" cy="223.0" r="1.2" fill="none" stroke="#5aa2de" stroke-width="0.9"/>
<text x="450.80" y="225.60" font-size="6.3" text-anchor="start" fill="#222" stroke="#222" stroke-width="0" font-weight="normal" >Measured data</text>
<path d="M440.5,231.6 L448.2,231.6" stroke="#111" stroke-width="1.3" fill="none" stroke-dasharray="2.4 1 0.8 1"/>
<text x="450.80" y="233.90" font-size="6.3" text-anchor="start" fill="#222" stroke="#222" stroke-width="0" font-weight="normal" >Fitting curve</text>
<text x="430.8" y="246.0" font-size="6.2" fill="#222"><tspan font-style="italic">I</tspan> = (<tspan font-style="italic">I</tspan><tspan font-size="4.4" dy="1.2">0</tspan><tspan dy="-1.2"> – </tspan><tspan font-style="italic">I</tspan><tspan font-size="4.4" dy="1.2">∞</tspan><tspan dy="-1.2">)exp(–</tspan><tspan font-style="italic">t</tspan>/<tspan font-style="italic">t</tspan><tspan font-size="4.4" dy="1.2">0</tspan><tspan dy="-1.2">) + </tspan><tspan font-style="italic">I</tspan><tspan font-size="4.4" dy="1.2">∞</tspan></text>
<text x="452.6" y="254.2" font-size="6.2" fill="#222"><tspan font-style="italic">t</tspan><tspan font-size="4.4" dy="1.2">0</tspan><tspan dy="-1.2"> = 5 μs</tspan></text>
<text x="518.30" y="171.3" font-size="12.5" font-weight="bold" fill="#000" stroke="#000" stroke-width="0.35">h</text>
<rect x="551.20" y="178.00" width="124.00" height="115.50" fill="none" stroke="#8c8c8c" stroke-width="0.8"/>
<line x1="547.80" y1="277.15" x2="551.20" y2="277.15" stroke="#8c8c8c" stroke-width="0.8" />
<text x="545.80" y="279.75" font-size="7.8" text-anchor="end" fill="#222222" stroke="#222222" stroke-width="0.1" font-weight="normal" >30</text>
<line x1="547.80" y1="244.10" x2="551.20" y2="244.10" stroke="#8c8c8c" stroke-width="0.8" />
<text x="545.80" y="246.70" font-size="7.8" text-anchor="end" fill="#222222" stroke="#222222" stroke-width="0.1" font-weight="normal" >40</text>
<line x1="547.80" y1="211.05" x2="551.20" y2="211.05" stroke="#8c8c8c" stroke-width="0.8" />
<text x="545.80" y="213.65" font-size="7.8" text-anchor="end" fill="#222222" stroke="#222222" stroke-width="0.1" font-weight="normal" >50</text>
<line x1="547.80" y1="178.00" x2="551.20" y2="178.00" stroke="#8c8c8c" stroke-width="0.8" />
<text x="545.80" y="180.60" font-size="7.8" text-anchor="end" fill="#222222" stroke="#222222" stroke-width="0.1" font-weight="normal" >60</text>
<line x1="589.40" y1="293.50" x2="589.40" y2="296.70" stroke="#8c8c8c" stroke-width="0.8" />
<text x="589.40" y="306.20" font-size="7.8" text-anchor="middle" fill="#222222" stroke="#222222" stroke-width="0.1" font-weight="normal" >5</text>
<line x1="632.30" y1="293.50" x2="632.30" y2="296.70" stroke="#8c8c8c" stroke-width="0.8" />
<text x="632.30" y="306.20" font-size="7.8" text-anchor="middle" fill="#222222" stroke="#222222" stroke-width="0.1" font-weight="normal" >10</text>
<line x1="675.20" y1="293.50" x2="675.20" y2="296.70" stroke="#8c8c8c" stroke-width="0.8" />
<text x="675.20" y="306.20" font-size="7.8" text-anchor="middle" fill="#222222" stroke="#222222" stroke-width="0.1" font-weight="normal" >15</text>
<text x="612.80" y="318.20" font-size="8.9" text-anchor="middle" fill="#222222" stroke="#222222" stroke-width="0.1" font-weight="normal" >Number of pulses</text>
<text x="0" y="0" font-size="8.9" text-anchor="middle" fill="#222222" stroke="#222222" stroke-width="0.1" transform="translate(526.40,234.40) rotate(-90)">Current (μA)</text>
<path d="M554.82,282.82 L555.68,280.47 L556.54,278.17 L557.40,275.94 L558.25,273.77 L559.11,271.65 L559.97,269.59 L560.83,267.58 L561.69,265.62 L562.54,263.72 L563.40,261.86 L564.26,260.06 L565.12,258.30 L565.98,256.59 L566.83,254.92 L567.69,253.29 L568.55,251.71 L569.41,250.17 L570.27,248.67 L571.12,247.21 L571.98,245.79 L572.84,244.40 L573.70,243.06 L574.56,241.74 L575.41,240.46 L576.27,239.22 L577.13,238.00 L577.99,236.82 L578.85,235.67 L579.70,234.55 L580.56,233.46 L581.42,232.40 L582.28,231.36 L583.14,230.36 L583.99,229.37 L584.85,228.42 L585.71,227.49 L586.57,226.58 L587.43,225.70 L588.28,224.84 L589.14,224.00 L590.00,223.19 L590.86,222.40 L591.72,221.62 L592.57,220.87 L593.43,220.14 L594.29,219.42 L595.15,218.73 L596.01,218.05 L596.86,217.39 L597.72,216.75 L598.58,216.13 L599.44,215.52 L600.30,214.92 L601.15,214.35 L602.01,213.78 L602.87,213.24 L603.73,212.70 L604.59,212.19 L605.44,211.68 L606.30,211.19 L607.16,210.71 L608.02,210.24 L608.88,209.79 L609.73,209.34 L610.59,208.91 L611.45,208.49 L612.31,208.08 L613.17,207.69 L614.02,207.30 L614.88,206.92 L615.74,206.55 L616.60,206.19 L617.46,205.85 L618.31,205.51 L619.17,205.18 L620.03,204.85 L620.89,204.54 L621.75,204.23 L622.60,203.94 L623.46,203.65 L624.32,203.37 L625.18,203.09 L626.04,202.82 L626.89,202.56 L627.75,202.31 L628.61,202.06 L629.47,201.82 L630.33,201.59 L631.18,201.36 L632.04,201.14 L632.90,200.92 L633.76,200.71 L634.62,200.50 L635.47,200.30 L636.33,200.11 L637.19,199.92 L638.05,199.74 L638.91,199.56 L639.76,199.38 L640.62,199.21 L641.48,199.05 L642.34,198.88 L643.20,198.73 L644.05,198.57 L644.91,198.42 L645.77,198.28 L646.63,198.14 L647.49,198.00 L648.34,197.87 L649.20,197.73 L650.06,197.61 L650.92,197.48 L651.78,197.36 L652.63,197.25 L653.49,197.13 L654.35,197.02 L655.21,196.91 L656.07,196.80 L656.92,196.70 L657.78,196.60 L658.64,196.50 L659.50,196.41 L660.36,196.32 L661.21,196.23 L662.07,196.14 L662.93,196.05 L663.79,195.97 L664.65,195.89 L665.50,195.81 L666.36,195.73 L667.22,195.66 L668.08,195.59 L668.94,195.51 L669.79,195.44 L670.65,195.38 L671.51,195.31 L672.37,195.25 L673.23,195.19 L674.08,195.13 L674.94,195.07" stroke="#b05ccc" stroke-width="0.95" fill="none" />
<path d="M554.82,285.11 L555.68,282.83 L556.54,280.63 L557.40,278.51 L558.25,276.46 L559.11,274.49 L559.97,272.59 L560.83,270.76 L561.69,268.99 L562.54,267.28 L563.40,265.64 L564.26,264.06 L565.12,262.53 L565.98,261.06 L566.83,259.64 L567.69,258.28 L568.55,256.96 L569.41,255.69 L570.27,254.46 L571.12,253.28 L571.98,252.14 L572.84,251.04 L573.70,249.99 L574.56,248.97 L575.41,247.98 L576.27,247.04 L577.13,246.12 L577.99,245.24 L578.85,244.39 L579.70,243.57 L580.56,242.78 L581.42,242.02 L582.28,241.29 L583.14,240.58 L583.99,239.90 L584.85,239.24 L585.71,238.61 L586.57,238.00 L587.43,237.41 L588.28,236.84 L589.14,236.29 L590.00,235.77 L590.86,235.26 L591.72,234.77 L592.57,234.29 L593.43,233.84 L594.29,233.40 L595.15,232.98 L596.01,232.57 L596.86,232.17 L597.72,231.80 L598.58,231.43 L599.44,231.08 L600.30,230.74 L601.15,230.41 L602.01,230.09 L602.87,229.79 L603.73,229.50 L604.59,229.21 L605.44,228.94 L606.30,228.68 L607.16,228.42 L608.02,228.18 L608.88,227.94 L609.73,227.72 L610.59,227.50 L611.45,227.29 L612.31,227.08 L613.17,226.89 L614.02,226.70 L614.88,226.51 L615.74,226.34 L616.60,226.17 L617.46,226.01 L618.31,225.85 L619.17,225.70 L620.03,225.55 L620.89,225.41 L621.75,225.27 L622.60,225.14 L623.46,225.01 L624.32,224.89 L625.18,224.78 L626.04,224.66 L626.89,224.55 L627.75,224.45 L628.61,224.35 L629.47,224.25 L630.33,224.15 L631.18,224.06 L632.04,223.98 L632.90,223.89 L633.76,223.81 L634.62,223.73 L635.47,223.66 L636.33,223.58 L637.19,223.51 L638.05,223.44 L638.91,223.38 L639.76,223.32 L640.62,223.25 L641.48,223.20 L642.34,223.14 L643.20,223.09 L644.05,223.03 L644.91,222.98 L645.77,222.93 L646.63,222.89 L647.49,222.84 L648.34,222.80 L649.20,222.76 L650.06,222.71 L650.92,222.68 L651.78,222.64 L652.63,222.60 L653.49,222.57 L654.35,222.53 L655.21,222.50 L656.07,222.47 L656.92,222.44 L657.78,222.41 L658.64,222.38 L659.50,222.35 L660.36,222.33 L661.21,222.30 L662.07,222.28 L662.93,222.25 L663.79,222.23 L664.65,222.21 L665.50,222.19 L666.36,222.17 L667.22,222.15 L668.08,222.13 L668.94,222.11 L669.79,222.09 L670.65,222.08 L671.51,222.06 L672.37,222.05 L673.23,222.03 L674.08,222.02 L674.94,222.00" stroke="#f39a2e" stroke-width="0.95" fill="none" />
<path d="M554.82,282.55 L555.68,281.08 L556.54,279.66 L557.40,278.29 L558.25,276.96 L559.11,275.68 L559.97,274.44 L560.83,273.24 L561.69,272.09 L562.54,270.97 L563.40,269.89 L564.26,268.85 L565.12,267.84 L565.98,266.87 L566.83,265.93 L567.69,265.02 L568.55,264.15 L569.41,263.30 L570.27,262.48 L571.12,261.69 L571.98,260.92 L572.84,260.19 L573.70,259.47 L574.56,258.78 L575.41,258.12 L576.27,257.47 L577.13,256.85 L577.99,256.25 L578.85,255.67 L579.70,255.11 L580.56,254.57 L581.42,254.05 L582.28,253.54 L583.14,253.06 L583.99,252.58 L584.85,252.13 L585.71,251.69 L586.57,251.26 L587.43,250.85 L588.28,250.45 L589.14,250.07 L590.00,249.70 L590.86,249.34 L591.72,249.00 L592.57,248.66 L593.43,248.34 L594.29,248.03 L595.15,247.73 L596.01,247.44 L596.86,247.16 L597.72,246.88 L598.58,246.62 L599.44,246.37 L600.30,246.12 L601.15,245.89 L602.01,245.66 L602.87,245.44 L603.73,245.22 L604.59,245.02 L605.44,244.82 L606.30,244.63 L607.16,244.44 L608.02,244.26 L608.88,244.09 L609.73,243.92 L610.59,243.76 L611.45,243.60 L612.31,243.45 L613.17,243.30 L614.02,243.16 L614.88,243.03 L615.74,242.90 L616.60,242.77 L617.46,242.65 L618.31,242.53 L619.17,242.41 L620.03,242.30 L620.89,242.19 L621.75,242.09 L622.60,241.99 L623.46,241.89 L624.32,241.80 L625.18,241.71 L626.04,241.62 L626.89,241.54 L627.75,241.46 L628.61,241.38 L629.47,241.30 L630.33,241.23 L631.18,241.16 L632.04,241.09 L632.90,241.03 L633.76,240.96 L634.62,240.90 L635.47,240.84 L636.33,240.78 L637.19,240.73 L638.05,240.67 L638.91,240.62 L639.76,240.57 L640.62,240.52 L641.48,240.48 L642.34,240.43 L643.20,240.39 L644.05,240.35 L644.91,240.30 L645.77,240.26 L646.63,240.23 L647.49,240.19 L648.34,240.15 L649.20,240.12 L650.06,240.09 L650.92,240.06 L651.78,240.02 L652.63,239.99 L653.49,239.97 L654.35,239.94 L655.21,239.91 L656.07,239.88 L656.92,239.86 L657.78,239.84 L658.64,239.81 L659.50,239.79 L660.36,239.77 L661.21,239.75 L662.07,239.73 L662.93,239.71 L663.79,239.69 L664.65,239.67 L665.50,239.65 L666.36,239.63 L667.22,239.62 L668.08,239.60 L668.94,239.58 L669.79,239.57 L670.65,239.56 L671.51,239.54 L672.37,239.53 L673.23,239.51 L674.08,239.50 L674.94,239.49" stroke="#3b8fd0" stroke-width="0.95" fill="none" />
<path d="M554.82,288.71 L555.68,287.64 L556.54,286.61 L557.40,285.61 L558.25,284.66 L559.11,283.74 L559.97,282.86 L560.83,282.02 L561.69,281.20 L562.54,280.42 L563.40,279.67 L564.26,278.95 L565.12,278.26 L565.98,277.59 L566.83,276.95 L567.69,276.34 L568.55,275.75 L569.41,275.18 L570.27,274.64 L571.12,274.11 L571.98,273.61 L572.84,273.13 L573.70,272.66 L574.56,272.22 L575.41,271.79 L576.27,271.38 L577.13,270.98 L577.99,270.60 L578.85,270.24 L579.70,269.88 L580.56,269.55 L581.42,269.22 L582.28,268.91 L583.14,268.61 L583.99,268.33 L584.85,268.05 L585.71,267.78 L586.57,267.53 L587.43,267.28 L588.28,267.05 L589.14,266.82 L590.00,266.61 L590.86,266.40 L591.72,266.20 L592.57,266.00 L593.43,265.82 L594.29,265.64 L595.15,265.47 L596.01,265.31 L596.86,265.15 L597.72,265.00 L598.58,264.85 L599.44,264.71 L600.30,264.58 L601.15,264.45 L602.01,264.33 L602.87,264.21 L603.73,264.09 L604.59,263.98 L605.44,263.88 L606.30,263.77 L607.16,263.68 L608.02,263.58 L608.88,263.49 L609.73,263.41 L610.59,263.32 L611.45,263.24 L612.31,263.17 L613.17,263.09 L614.02,263.02 L614.88,262.95 L615.74,262.89 L616.60,262.83 L617.46,262.77 L618.31,262.71 L619.17,262.65 L620.03,262.60 L620.89,262.55 L621.75,262.50 L622.60,262.45 L623.46,262.40 L624.32,262.36 L625.18,262.32 L626.04,262.28 L626.89,262.24 L627.75,262.20 L628.61,262.17 L629.47,262.13 L630.33,262.10 L631.18,262.07 L632.04,262.04 L632.90,262.01 L633.76,261.98 L634.62,261.95 L635.47,261.92 L636.33,261.90 L637.19,261.88 L638.05,261.85 L638.91,261.83 L639.76,261.81 L640.62,261.79 L641.48,261.77 L642.34,261.75 L643.20,261.73 L644.05,261.71 L644.91,261.70 L645.77,261.68 L646.63,261.67 L647.49,261.65 L648.34,261.64 L649.20,261.62 L650.06,261.61 L650.92,261.60 L651.78,261.58 L652.63,261.57 L653.49,261.56 L654.35,261.55 L655.21,261.54 L656.07,261.53 L656.92,261.52 L657.78,261.51 L658.64,261.50 L659.50,261.49 L660.36,261.49 L661.21,261.48 L662.07,261.47 L662.93,261.46 L663.79,261.46 L664.65,261.45 L665.50,261.44 L666.36,261.44 L667.22,261.43 L668.08,261.43 L668.94,261.42 L669.79,261.41 L670.65,261.41 L671.51,261.41 L672.37,261.40 L673.23,261.40 L674.08,261.39 L674.94,261.39" stroke="#5cbf5c" stroke-width="0.95" fill="none" />
<path d="M554.82,289.40 L555.68,288.26 L556.54,287.20 L557.40,286.22 L558.25,285.31 L559.11,284.46 L559.97,283.68 L560.83,282.96 L561.69,282.29 L562.54,281.67 L563.40,281.10 L564.26,280.56 L565.12,280.07 L565.98,279.61 L566.83,279.19 L567.69,278.79 L568.55,278.43 L569.41,278.09 L570.27,277.78 L571.12,277.49 L571.98,277.22 L572.84,276.98 L573.70,276.75 L574.56,276.53 L575.41,276.34 L576.27,276.15 L577.13,275.98 L577.99,275.83 L578.85,275.68 L579.70,275.55 L580.56,275.42 L581.42,275.30 L582.28,275.20 L583.14,275.10 L583.99,275.01 L584.85,274.92 L585.71,274.84 L586.57,274.77 L587.43,274.70 L588.28,274.64 L589.14,274.58 L590.00,274.53 L590.86,274.48 L591.72,274.43 L592.57,274.39 L593.43,274.35 L594.29,274.31 L595.15,274.28 L596.01,274.24 L596.86,274.21 L597.72,274.19 L598.58,274.16 L599.44,274.14 L600.30,274.12 L601.15,274.10 L602.01,274.08 L602.87,274.06 L603.73,274.05 L604.59,274.03 L605.44,274.02 L606.30,274.00 L607.16,273.99 L608.02,273.98 L608.88,273.97 L609.73,273.96 L610.59,273.95 L611.45,273.95 L612.31,273.94 L613.17,273.93 L614.02,273.93 L614.88,273.92 L615.74,273.91 L616.60,273.91 L617.46,273.90 L618.31,273.90 L619.17,273.90 L620.03,273.89 L620.89,273.89 L621.75,273.89 L622.60,273.88 L623.46,273.88 L624.32,273.88 L625.18,273.87 L626.04,273.87 L626.89,273.87 L627.75,273.87 L628.61,273.87 L629.47,273.87 L630.33,273.86 L631.18,273.86 L632.04,273.86 L632.90,273.86 L633.76,273.86 L634.62,273.86 L635.47,273.86 L636.33,273.86 L637.19,273.86 L638.05,273.85 L638.91,273.85 L639.76,273.85 L640.62,273.85 L641.48,273.85 L642.34,273.85 L643.20,273.85 L644.05,273.85 L644.91,273.85 L645.77,273.85 L646.63,273.85 L647.49,273.85 L648.34,273.85 L649.20,273.85 L650.06,273.85 L650.92,273.85 L651.78,273.85 L652.63,273.85 L653.49,273.85 L654.35,273.85 L655.21,273.85 L656.07,273.85 L656.92,273.85 L657.78,273.85 L658.64,273.85 L659.50,273.85 L660.36,273.85 L661.21,273.85 L662.07,273.85 L662.93,273.85 L663.79,273.85 L664.65,273.85 L665.50,273.85 L666.36,273.85 L667.22,273.85 L668.08,273.85 L668.94,273.85 L669.79,273.85 L670.65,273.85 L671.51,273.85 L672.37,273.85 L673.23,273.85 L674.08,273.85 L674.94,273.85" stroke="#111111" stroke-width="0.95" fill="none" />
<circle cx="555.08" cy="285.41" r="0.85" fill="#b05ccc"/>
<circle cx="563.66" cy="257.98" r="0.85" fill="#b05ccc"/>
<circle cx="572.24" cy="237.99" r="0.85" fill="#b05ccc"/>
<circle cx="580.82" cy="229.89" r="0.85" fill="#b05ccc"/>
<circle cx="589.40" cy="222.95" r="0.85" fill="#b05ccc"/>
<circle cx="597.98" cy="218.98" r="0.85" fill="#b05ccc"/>
<circle cx="606.56" cy="212.04" r="0.85" fill="#b05ccc"/>
<circle cx="615.14" cy="206.75" r="0.85" fill="#b05ccc"/>
<circle cx="623.72" cy="200.47" r="0.85" fill="#b05ccc"/>
<circle cx="632.30" cy="196.84" r="0.85" fill="#b05ccc"/>
<circle cx="640.88" cy="195.19" r="0.85" fill="#b05ccc"/>
<circle cx="649.46" cy="194.86" r="0.85" fill="#b05ccc"/>
<circle cx="658.04" cy="193.86" r="0.85" fill="#b05ccc"/>
<circle cx="666.62" cy="192.87" r="0.85" fill="#b05ccc"/>
<circle cx="675.20" cy="191.88" r="0.85" fill="#b05ccc"/>
<circle cx="555.08" cy="291.69" r="0.85" fill="#f39a2e"/>
<circle cx="563.66" cy="266.57" r="0.85" fill="#f39a2e"/>
<circle cx="572.24" cy="251.37" r="0.85" fill="#f39a2e"/>
<circle cx="580.82" cy="240.46" r="0.85" fill="#f39a2e"/>
<circle cx="589.40" cy="236.99" r="0.85" fill="#f39a2e"/>
<circle cx="597.98" cy="233.85" r="0.85" fill="#f39a2e"/>
<circle cx="606.56" cy="230.88" r="0.85" fill="#f39a2e"/>
<circle cx="615.14" cy="229.89" r="0.85" fill="#f39a2e"/>
<circle cx="623.72" cy="228.90" r="0.85" fill="#f39a2e"/>
<circle cx="632.30" cy="227.91" r="0.85" fill="#f39a2e"/>
<circle cx="640.88" cy="227.57" r="0.85" fill="#f39a2e"/>
<circle cx="649.46" cy="226.91" r="0.85" fill="#f39a2e"/>
<circle cx="658.04" cy="226.58" r="0.85" fill="#f39a2e"/>
<circle cx="666.62" cy="226.25" r="0.85" fill="#f39a2e"/>
<circle cx="675.20" cy="224.93" r="0.85" fill="#f39a2e"/>
<circle cx="555.08" cy="288.72" r="0.85" fill="#3b8fd0"/>
<circle cx="563.66" cy="267.90" r="0.85" fill="#3b8fd0"/>
<circle cx="572.24" cy="260.96" r="0.85" fill="#3b8fd0"/>
<circle cx="580.82" cy="252.03" r="0.85" fill="#3b8fd0"/>
<circle cx="589.40" cy="246.74" r="0.85" fill="#3b8fd0"/>
<circle cx="597.98" cy="243.11" r="0.85" fill="#3b8fd0"/>
<circle cx="606.56" cy="242.12" r="0.85" fill="#3b8fd0"/>
<circle cx="615.14" cy="241.46" r="0.85" fill="#3b8fd0"/>
<circle cx="623.72" cy="240.80" r="0.85" fill="#3b8fd0"/>
<circle cx="632.30" cy="240.46" r="0.85" fill="#3b8fd0"/>
<circle cx="640.88" cy="240.13" r="0.85" fill="#3b8fd0"/>
<circle cx="649.46" cy="239.80" r="0.85" fill="#3b8fd0"/>
<circle cx="658.04" cy="239.47" r="0.85" fill="#3b8fd0"/>
<circle cx="666.62" cy="239.14" r="0.85" fill="#3b8fd0"/>
<circle cx="675.20" cy="238.81" r="0.85" fill="#3b8fd0"/>
<circle cx="555.08" cy="290.37" r="0.85" fill="#5cbf5c"/>
<circle cx="563.66" cy="280.45" r="0.85" fill="#5cbf5c"/>
<circle cx="572.24" cy="274.18" r="0.85" fill="#5cbf5c"/>
<circle cx="580.82" cy="269.88" r="0.85" fill="#5cbf5c"/>
<circle cx="589.40" cy="265.91" r="0.85" fill="#5cbf5c"/>
<circle cx="597.98" cy="265.09" r="0.85" fill="#5cbf5c"/>
<circle cx="606.56" cy="264.59" r="0.85" fill="#5cbf5c"/>
<circle cx="615.14" cy="263.93" r="0.85" fill="#5cbf5c"/>
<circle cx="623.72" cy="263.27" r="0.85" fill="#5cbf5c"/>
<circle cx="632.30" cy="262.94" r="0.85" fill="#5cbf5c"/>
<circle cx="640.88" cy="262.61" r="0.85" fill="#5cbf5c"/>
<circle cx="649.46" cy="262.28" r="0.85" fill="#5cbf5c"/>
<circle cx="658.04" cy="261.95" r="0.85" fill="#5cbf5c"/>
<circle cx="666.62" cy="261.62" r="0.85" fill="#5cbf5c"/>
<circle cx="675.20" cy="260.96" r="0.85" fill="#5cbf5c"/>
<circle cx="555.08" cy="291.69" r="0.85" fill="#111111"/>
<circle cx="563.66" cy="284.42" r="0.85" fill="#111111"/>
<circle cx="572.24" cy="277.81" r="0.85" fill="#111111"/>
<circle cx="580.82" cy="275.00" r="0.85" fill="#111111"/>
<circle cx="589.40" cy="274.18" r="0.85" fill="#111111"/>
<circle cx="597.98" cy="273.51" r="0.85" fill="#111111"/>
<circle cx="606.56" cy="272.19" r="0.85" fill="#111111"/>
<circle cx="615.14" cy="271.86" r="0.85" fill="#111111"/>
<circle cx="623.72" cy="271.53" r="0.85" fill="#111111"/>
<circle cx="632.30" cy="271.20" r="0.85" fill="#111111"/>
<circle cx="640.88" cy="270.87" r="0.85" fill="#111111"/>
<circle cx="649.46" cy="270.54" r="0.85" fill="#111111"/>
<circle cx="658.04" cy="270.54" r="0.85" fill="#111111"/>
<circle cx="666.62" cy="270.21" r="0.85" fill="#111111"/>
<circle cx="675.20" cy="269.88" r="0.85" fill="#111111"/>
<circle cx="558.0" cy="183.00" r="0.85" fill="#b05ccc"/>
<text x="561.60" y="185.30" font-size="6.6" text-anchor="start" fill="#333" stroke="#333" stroke-width="0" font-weight="normal" >500 ns</text>
<circle cx="558.0" cy="191.33" r="0.85" fill="#f39a2e"/>
<text x="561.60" y="193.63" font-size="6.6" text-anchor="start" fill="#333" stroke="#333" stroke-width="0" font-weight="normal" >1 μs</text>
<circle cx="558.0" cy="199.66" r="0.85" fill="#3b8fd0"/>
<text x="561.60" y="201.96" font-size="6.6" text-anchor="start" fill="#333" stroke="#333" stroke-width="0" font-weight="normal" >1.5 μs</text>
<circle cx="558.0" cy="207.99" r="0.85" fill="#5cbf5c"/>
<text x="561.60" y="210.29" font-size="6.6" text-anchor="start" fill="#333" stroke="#333" stroke-width="0" font-weight="normal" >2.5 μs</text>
<circle cx="558.0" cy="216.32" r="0.85" fill="#111111"/>
<text x="561.60" y="218.62" font-size="6.6" text-anchor="start" fill="#333" stroke="#333" stroke-width="0" font-weight="normal" >3.5 μs</text>
<defs><linearGradient id="pg" x1="0" x2="1" y1="0" y2="0"><stop offset="0" stop-color="#9466d6"/><stop offset="1" stop-color="#5a8ae8"/></linearGradient><linearGradient id="pdt" x1="0" x2="1" y1="1" y2="0"><stop offset="0" stop-color="#c4c4c6"/><stop offset="1" stop-color="#dadadc"/></linearGradient></defs>
<path d="M100.00,110.80 L112.00,91.60 L160.00,92.60 L153.50,116.30 Z" fill="#e6e5ed" />
<path d="M100.00,110.80 L112.00,91.60 L130.40,93.40 L124.60,113.40 Z" fill="#e1d9ee" />
<path d="M124.60,113.40 L130.40,93.40 L132.00,93.60 L126.60,113.60 Z" fill="#d0ced8" />
<path d="M160.00,92.60 L160.00,114.00 L153.50,121.60 L153.50,116.30 Z" fill="#d2d2d9" />
<path d="M100.00,110.80 L153.50,116.30 L153.50,121.60 L100.00,116.00 Z" fill="#efeff3" />
<line x1="100.00" y1="116.00" x2="153.50" y2="121.60" stroke="#c8c8d0" stroke-width="0.5" />
<path d="M100.00,98.20 L109.00,99.00 L109.80,104.70 L100.00,104.30 Z" fill="#e4e4e6" />
<path d="M109.00,99.00 L122.00,88.10 L122.00,92.60 L109.80,104.70 Z" fill="#8a8a8e" />
<path d="M100.00,98.20 L113.40,87.30 L122.00,88.10 L109.00,99.00 Z" fill="url(#pdt)" />
<path d="M140.10,104.00 L149.60,104.40 L149.60,109.30 L140.10,109.00 Z" fill="#f1cd5c" />
<path d="M149.60,104.40 L159.60,92.90 L159.60,97.60 L149.60,109.30 Z" fill="#d9ab3e" />
<path d="M140.10,104.00 L150.90,92.40 L159.60,92.90 L149.60,104.40 Z" fill="#f6d872" />
<path d="M0,-1.7 L4,-1.7 L4,-3.5 L7.5,0 L4,3.5 L4,1.7 L0,1.7 Z" fill="url(#pg)" transform="translate(125.60,104.00) rotate(-12) scale(1.05)"/>
<circle cx="116.7" cy="97.0" r="0.65" fill="#222"/>
<circle cx="120.3" cy="96.2" r="0.65" fill="#222"/>
<circle cx="119.9" cy="99.5" r="0.65" fill="#9b86dc"/>
<circle cx="122.4" cy="99.5" r="0.65" fill="#9b86dc"/>
<circle cx="117.0" cy="101.9" r="0.65" fill="#9b86dc"/>
<circle cx="110.2" cy="105.3" r="0.65" fill="#b8a8e4"/>
<ellipse cx="112.20" cy="84.40" rx="1.4" ry="0.85" fill="#8e7cd6" transform="rotate(-25 112.20 84.40)"/>
<ellipse cx="147.50" cy="90.70" rx="1.4" ry="0.85" fill="#8e7cd6" transform="rotate(-25 147.50 90.70)"/>
<line x1="113.40" y1="86.00" x2="115.90" y2="90.90" stroke="#666" stroke-width="0.4" />
<line x1="152.90" y1="91.40" x2="152.20" y2="96.00" stroke="#666" stroke-width="0.4" />
<circle cx="153.9" cy="90.7" r="0.65" fill="#333"/>
<text x="0" y="0" font-size="6.2" fill="#1e1e1e" stroke="#1e1e1e" stroke-width="0.08" transform="translate(101.90,81.30) rotate(0)">Hydrogen (H<tspan font-size="4.3" dy="1.2">2</tspan><tspan dy="-1.2">)</tspan></text>
<text x="0" y="0" font-size="6.2" fill="#1e1e1e" stroke="#1e1e1e" stroke-width="0.08" transform="translate(100.90,103.60) rotate(0)">Pd</text>
<text x="0" y="0" font-size="6.2" fill="#1e1e1e" stroke="#1e1e1e" stroke-width="0.08" transform="translate(100.90,110.10) rotate(5.5)">H-NdNiO<tspan font-size="4.34" dy="1.3">3</tspan></text>
<text x="0" y="0" font-size="6.2" fill="#1e1e1e" stroke="#1e1e1e" stroke-width="0.08" transform="translate(141.20,108.60) rotate(0)">Au</text>
<text x="0" y="0" font-size="6.2" fill="#1e1e1e" stroke="#1e1e1e" stroke-width="0.08" transform="translate(129.80,114.60) rotate(5.5)">H-NdNiO<tspan font-size="4.34" dy="1.3">3</tspan></text>
<path d="M100.00,276.50 L112.00,257.80 L159.00,258.60 L150.60,280.70 Z" fill="#e9e8f0" />
<path d="M100.00,276.50 L112.00,257.80 L124.50,258.00 L118.00,278.20 Z" fill="#e6dff0" />
<path d="M118.00,278.20 L124.50,258.00 L140.00,258.30 L136.00,279.80 Z" fill="#eeedf4" />
<path d="M126.50,279.00 L131.50,258.10 L133.00,258.10 L128.30,279.20 Z" fill="#d4d2dc" />
<path d="M159.00,258.60 L159.00,278.00 L150.60,286.60 L150.60,280.70 Z" fill="#d8d8de" />
<path d="M100.00,276.50 L150.60,280.70 L150.60,286.60 L100.00,281.50 Z" fill="#f3f3f6" />
<line x1="100.00" y1="281.50" x2="150.60" y2="286.60" stroke="#cfcfd6" stroke-width="0.5" />
<path d="M101.60,263.70 L110.10,265.00 L110.80,269.60 L101.60,269.40 Z" fill="#e4e4e6" />
<path d="M110.10,265.00 L123.30,253.20 L123.30,257.80 L110.80,269.60 Z" fill="#8a8a8e" />
<path d="M101.60,263.70 L114.10,251.90 L123.30,253.20 L110.10,265.00 Z" fill="url(#pdt)" />
<path d="M139.70,269.70 L149.00,270.60 L149.60,275.50 L139.70,275.00 Z" fill="#e4e4e6" />
<path d="M149.00,270.60 L159.10,257.10 L159.10,263.00 L149.60,275.50 Z" fill="#8a8a8e" />
<path d="M139.70,269.70 L149.80,255.40 L159.10,257.10 L149.00,270.60 Z" fill="url(#pdt)" />
<path d="M0,-1.7 L4,-1.7 L4,-3.5 L7.5,0 L4,3.5 L4,1.7 L0,1.7 Z" fill="url(#pg)" transform="translate(123.00,265.60) rotate(12) scale(0.8)"/>
<path d="M0,-1.7 L4,-1.7 L4,-3.5 L7.5,0 L4,3.5 L4,1.7 L0,1.7 Z" fill="url(#pg)" transform="translate(132.20,268.00) rotate(-8) scale(0.8)"/>
<circle cx="117.6" cy="262.2" r="0.65" fill="#222"/>
<circle cx="121.2" cy="261.2" r="0.65" fill="#222"/>
<circle cx="124.0" cy="264.8" r="0.65" fill="#9b86dc"/>
<circle cx="116.2" cy="267.8" r="0.65" fill="#9b86dc"/>
<circle cx="127.0" cy="263.8" r="0.65" fill="#9b86dc"/>
<circle cx="142.4" cy="264.4" r="0.65" fill="#9b86dc"/>
<circle cx="140.8" cy="261.4" r="0.65" fill="#9b86dc"/>
<circle cx="137.5" cy="266.0" r="0.65" fill="#b8a8e4"/>
<ellipse cx="112.60" cy="249.00" rx="1.4" ry="0.85" fill="#8e7cd6" transform="rotate(-25 112.60 249.00)"/>
<ellipse cx="144.80" cy="253.60" rx="1.4" ry="0.85" fill="#8e7cd6" transform="rotate(-25 144.80 253.60)"/>
<line x1="113.20" y1="250.00" x2="117.00" y2="256.00" stroke="#666" stroke-width="0.4" />
<line x1="145.00" y1="254.60" x2="143.60" y2="259.00" stroke="#666" stroke-width="0.4" />
<text x="0" y="0" font-size="6.2" fill="#1e1e1e" stroke="#1e1e1e" stroke-width="0.08" transform="translate(106.80,245.30) rotate(0)">Hydrogen (H<tspan font-size="4.3" dy="1.2">2</tspan><tspan dy="-1.2">)</tspan></text>
<text x="0" y="0" font-size="6.2" fill="#1e1e1e" stroke="#1e1e1e" stroke-width="0.08" transform="translate(102.20,269.00) rotate(0)">Pd</text>
<text x="0" y="0" font-size="6.2" fill="#1e1e1e" stroke="#1e1e1e" stroke-width="0.08" transform="translate(99.90,277.40) rotate(3.5)">H-NdNiO<tspan font-size="4.34" dy="1.3">3</tspan></text>
<text x="0" y="0" font-size="6.2" fill="#1e1e1e" stroke="#1e1e1e" stroke-width="0.08" transform="translate(140.30,274.20) rotate(0)">Pd</text>
<text x="0" y="0" font-size="6.2" fill="#1e1e1e" stroke="#1e1e1e" stroke-width="0.08" transform="translate(128.60,281.80) rotate(5.5)">H-NdNiO<tspan font-size="4.34" dy="1.3">3</tspan></text>
</svg>
</body></html>
